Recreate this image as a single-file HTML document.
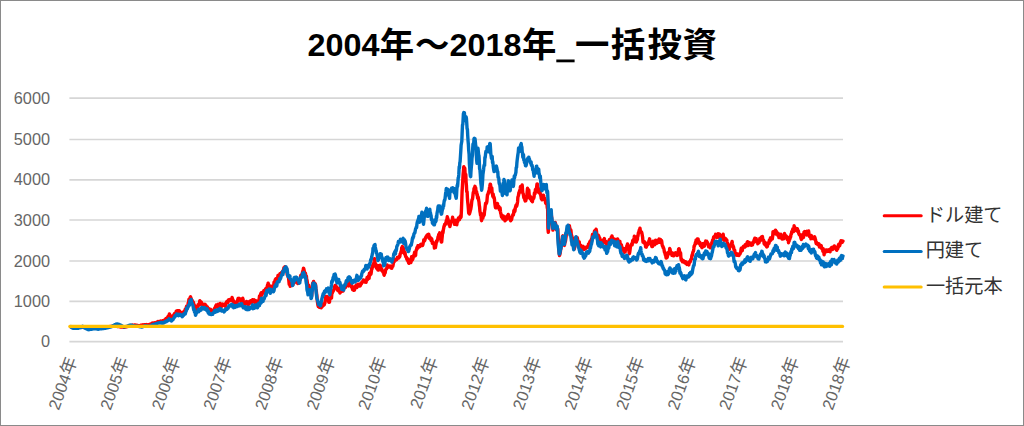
<!DOCTYPE html>
<html lang="ja">
<head>
<meta charset="utf-8">
<title>2004年～2018年_一括投資</title>
<style>
html,body{margin:0;padding:0;background:#fff;}
body{width:1024px;height:426px;overflow:hidden;font-family:"Liberation Sans",sans-serif;}
svg{display:block;}
</style>
</head>
<body>
<svg width="1024" height="426" viewBox="0 0 1024 426" role="img" aria-label="2004年～2018年_一括投資">
<rect x="0" y="0" width="1024" height="426" fill="#fff"/>
<rect x="0.5" y="0.5" width="1023" height="425" fill="none" stroke="#8a8a8a" stroke-width="1"/>
<g stroke="#D6D6D6" stroke-width="1.7"><line x1="69.4" y1="341.70" x2="843.0" y2="341.70"/><line x1="69.4" y1="301.40" x2="843.0" y2="301.40"/><line x1="69.4" y1="261.00" x2="843.0" y2="261.00"/><line x1="69.4" y1="220.00" x2="843.0" y2="220.00"/><line x1="69.4" y1="179.80" x2="843.0" y2="179.80"/><line x1="69.4" y1="139.50" x2="843.0" y2="139.50"/><line x1="69.4" y1="98.05" x2="843.0" y2="98.05"/></g>
<g font-family="'Liberation Sans', sans-serif" font-size="16.3" fill="#666"><text x="50" y="347.2" text-anchor="end">0</text><text x="50" y="306.9" text-anchor="end">1000</text><text x="50" y="266.5" text-anchor="end">2000</text><text x="50" y="225.5" text-anchor="end">3000</text><text x="50" y="185.3" text-anchor="end">4000</text><text x="50" y="145.0" text-anchor="end">5000</text><text x="50" y="103.5" text-anchor="end">6000</text></g>
<g fill="none" stroke-width="3.4" stroke-linejoin="round" stroke-linecap="round">
<path stroke="#FF0000" d="M70.8 326.9 L71.1 326.9 L71.4 326.9 L71.7 326.9 L72.1 326.8 L72.4 326.9 L72.7 327.0 L73.1 326.9 L73.4 327.0 L73.7 326.9 L74.0 326.9 L74.4 326.9 L74.7 326.8 L75.0 327.0 L75.4 327.0 L75.7 327.0 L76.0 326.9 L76.4 326.8 L76.7 326.9 L77.0 326.9 L77.3 327.0 L77.7 327.0 L78.0 327.0 L78.3 326.9 L78.7 327.0 L79.0 327.0 L79.3 326.9 L79.7 327.1 L80.0 327.0 L80.3 327.1 L80.6 327.0 L81.0 326.9 L81.3 327.0 L81.6 327.0 L82.0 327.1 L82.3 327.1 L82.6 327.1 L83.0 327.0 L83.3 327.1 L83.6 327.2 L83.9 327.1 L84.3 327.2 L84.6 327.2 L84.9 327.2 L85.3 327.2 L85.6 327.3 L85.9 327.2 L86.3 327.3 L86.6 327.3 L86.9 327.3 L87.2 327.4 L87.6 327.4 L87.9 327.3 L88.2 327.5 L88.6 327.5 L88.9 327.6 L89.2 327.6 L89.6 327.5 L89.9 327.5 L90.2 327.4 L90.5 327.5 L90.9 327.4 L91.2 327.4 L91.5 327.4 L91.9 327.4 L92.2 327.4 L92.5 327.5 L92.9 327.3 L93.2 327.3 L93.5 327.4 L93.8 327.5 L94.2 327.5 L94.5 327.3 L94.8 327.2 L95.2 327.4 L95.5 327.4 L95.8 327.3 L96.2 327.4 L96.5 327.5 L96.8 327.4 L97.1 327.4 L97.5 327.4 L97.8 327.5 L98.1 327.4 L98.5 327.4 L98.8 327.4 L99.1 327.3 L99.5 327.4 L99.8 327.4 L100.1 327.4 L100.4 327.2 L100.8 327.3 L101.1 327.3 L101.4 327.2 L101.8 327.3 L102.1 327.3 L102.4 327.2 L102.8 327.4 L103.1 327.3 L103.4 327.3 L103.7 327.3 L104.1 327.3 L104.4 327.3 L104.7 327.3 L105.1 327.2 L105.4 327.2 L105.7 327.2 L106.1 327.1 L106.4 327.0 L106.7 327.1 L107.0 327.1 L107.4 326.9 L107.7 326.8 L108.0 326.8 L108.4 326.8 L108.7 326.7 L109.0 326.8 L109.4 326.6 L109.7 326.7 L110.0 326.5 L110.3 326.5 L110.7 326.5 L111.0 326.5 L111.3 326.4 L111.7 326.4 L112.0 326.3 L112.3 326.3 L112.7 326.2 L113.0 326.1 L113.3 326.1 L113.6 326.1 L114.0 326.0 L114.3 326.1 L114.6 326.1 L115.0 326.3 L115.3 326.2 L115.6 326.2 L116.0 326.2 L116.3 326.3 L116.6 326.4 L116.9 326.4 L117.3 326.4 L117.6 326.6 L117.9 326.4 L118.3 326.4 L118.6 326.6 L118.9 326.6 L119.3 326.7 L119.6 326.7 L119.9 326.8 L120.2 326.8 L120.6 326.8 L120.9 327.0 L121.2 327.0 L121.6 326.9 L121.9 327.0 L122.2 327.0 L122.6 327.1 L122.9 327.0 L123.2 327.1 L123.5 327.2 L123.9 327.2 L124.2 327.2 L124.5 327.2 L124.9 327.1 L125.2 327.1 L125.5 326.8 L125.9 326.8 L126.2 326.7 L126.5 326.7 L126.8 326.7 L127.2 326.4 L127.5 326.5 L127.8 326.3 L128.2 326.3 L128.5 326.2 L128.8 326.2 L129.2 326.2 L129.5 326.0 L129.8 326.0 L130.1 325.9 L130.5 325.8 L130.8 325.7 L131.1 325.8 L131.5 325.7 L131.8 325.5 L132.1 325.7 L132.5 325.3 L132.8 325.4 L133.1 325.2 L133.4 325.1 L133.8 325.1 L134.1 325.1 L134.4 325.1 L134.8 325.0 L135.1 325.0 L135.4 325.2 L135.8 325.2 L136.1 325.2 L136.4 325.2 L136.8 325.5 L137.1 325.6 L137.4 325.7 L137.7 325.5 L138.1 325.6 L138.4 325.6 L138.7 325.7 L139.1 325.9 L139.4 325.6 L139.7 325.7 L140.1 325.6 L140.4 325.5 L140.7 325.2 L141.0 325.4 L141.4 325.2 L141.7 325.1 L142.0 325.1 L142.4 325.0 L142.7 325.1 L143.0 324.8 L143.4 324.9 L143.7 324.9 L144.0 324.9 L144.3 324.7 L144.7 324.6 L145.0 324.8 L145.3 324.8 L145.7 324.8 L146.0 325.0 L146.3 324.9 L146.7 324.6 L147.0 324.8 L147.3 324.7 L147.6 325.0 L148.0 325.0 L148.3 324.8 L148.6 324.7 L149.0 324.7 L149.3 324.5 L149.6 324.6 L150.0 324.3 L150.3 324.3 L150.6 324.3 L150.9 324.3 L151.3 323.8 L151.6 323.9 L151.9 323.3 L152.3 323.3 L152.6 323.0 L152.9 323.5 L153.3 323.1 L153.6 323.1 L153.9 323.1 L154.2 323.0 L154.6 322.8 L154.9 322.9 L155.2 323.1 L155.6 322.8 L155.9 322.7 L156.2 322.7 L156.6 322.3 L156.9 321.9 L157.2 321.9 L157.5 322.2 L157.9 321.5 L158.2 321.5 L158.5 321.9 L158.9 321.8 L159.2 321.6 L159.5 321.7 L159.9 321.6 L160.2 321.2 L160.5 320.9 L160.8 321.1 L161.2 321.6 L161.5 321.3 L161.8 321.1 L162.2 321.1 L162.5 320.8 L162.8 321.2 L163.2 320.9 L163.5 321.3 L163.8 320.6 L164.1 321.0 L164.5 320.6 L164.8 319.8 L165.1 320.2 L165.5 319.7 L165.8 318.7 L166.1 318.6 L166.5 318.8 L166.8 318.1 L167.1 318.0 L167.4 317.6 L167.8 317.1 L168.1 316.4 L168.4 316.3 L168.8 315.6 L169.1 315.1 L169.4 314.0 L169.8 315.6 L170.1 316.4 L170.4 316.1 L170.7 316.1 L171.1 317.5 L171.4 316.4 L171.7 316.9 L172.1 317.7 L172.4 316.0 L172.7 316.1 L173.1 316.5 L173.4 315.3 L173.7 315.1 L174.0 314.9 L174.4 313.6 L174.7 313.4 L175.0 313.4 L175.4 313.4 L175.7 312.6 L176.0 312.0 L176.4 311.0 L176.7 310.9 L177.0 311.5 L177.3 311.2 L177.7 310.7 L178.0 310.7 L178.3 313.2 L178.7 313.0 L179.0 312.7 L179.3 310.7 L179.7 312.4 L180.0 312.9 L180.3 313.9 L180.6 313.5 L181.0 313.2 L181.3 313.6 L181.6 312.4 L182.0 313.9 L182.3 314.0 L182.6 313.6 L183.0 314.4 L183.3 314.4 L183.6 312.1 L183.9 311.5 L184.3 311.6 L184.6 311.2 L184.9 310.3 L185.3 309.2 L185.6 310.8 L185.9 309.9 L186.3 307.4 L186.6 306.2 L186.9 308.1 L187.2 307.4 L187.6 307.3 L187.9 305.7 L188.2 302.9 L188.6 302.7 L188.9 299.3 L189.2 299.3 L189.6 299.4 L189.9 299.4 L190.2 297.3 L190.5 296.8 L190.9 297.9 L191.2 298.7 L191.5 299.8 L191.9 300.2 L192.2 300.3 L192.5 302.1 L192.9 302.3 L193.2 302.0 L193.5 302.7 L193.8 304.1 L194.2 304.8 L194.5 305.9 L194.8 306.5 L195.2 307.2 L195.5 307.3 L195.8 306.6 L196.2 308.1 L196.5 309.2 L196.8 309.3 L197.1 308.3 L197.5 308.1 L197.8 306.3 L198.1 304.6 L198.5 305.5 L198.8 304.3 L199.1 305.2 L199.5 303.2 L199.8 300.6 L200.1 301.3 L200.4 304.4 L200.8 303.2 L201.1 301.9 L201.4 302.3 L201.8 303.7 L202.1 304.1 L202.4 303.9 L202.8 305.3 L203.1 304.9 L203.4 304.2 L203.7 304.8 L204.1 306.2 L204.4 306.0 L204.7 306.2 L205.1 304.3 L205.4 304.9 L205.7 306.1 L206.1 305.6 L206.4 306.9 L206.7 306.9 L207.0 307.5 L207.4 306.9 L207.7 309.5 L208.0 309.2 L208.4 308.3 L208.7 308.6 L209.0 310.9 L209.4 309.5 L209.7 310.3 L210.0 310.9 L210.3 310.3 L210.7 309.3 L211.0 310.1 L211.3 310.5 L211.7 311.2 L212.0 311.2 L212.3 310.7 L212.7 311.2 L213.0 311.2 L213.3 310.7 L213.6 310.1 L214.0 309.5 L214.3 309.7 L214.6 308.1 L215.0 307.7 L215.3 307.9 L215.6 306.3 L216.0 306.5 L216.3 304.9 L216.6 305.6 L216.9 306.7 L217.3 306.8 L217.6 306.2 L217.9 305.7 L218.3 304.3 L218.6 306.8 L218.9 306.1 L219.3 306.3 L219.6 304.5 L219.9 304.9 L220.2 303.5 L220.6 305.7 L220.9 306.5 L221.2 304.1 L221.6 305.3 L221.9 306.3 L222.2 304.4 L222.6 304.0 L222.9 304.7 L223.2 305.2 L223.5 304.4 L223.9 305.3 L224.2 305.5 L224.5 305.7 L224.9 305.6 L225.2 306.2 L225.5 305.8 L225.9 303.0 L226.2 302.9 L226.5 302.1 L226.8 301.6 L227.2 302.3 L227.5 302.4 L227.8 302.7 L228.2 300.3 L228.5 299.9 L228.8 300.9 L229.2 300.8 L229.5 300.4 L229.8 300.4 L230.1 299.4 L230.5 300.6 L230.8 300.3 L231.1 299.5 L231.5 298.9 L231.8 299.7 L232.1 297.4 L232.5 299.0 L232.8 300.9 L233.1 299.9 L233.4 301.9 L233.8 302.6 L234.1 301.3 L234.4 302.3 L234.8 302.7 L235.1 303.7 L235.4 304.3 L235.8 303.7 L236.1 302.2 L236.4 302.2 L236.7 301.9 L237.1 302.3 L237.4 301.6 L237.7 299.9 L238.1 298.4 L238.4 299.1 L238.7 298.9 L239.1 298.3 L239.4 299.3 L239.7 299.0 L240.0 299.6 L240.4 300.1 L240.7 299.2 L241.0 301.9 L241.4 299.7 L241.7 300.9 L242.0 300.3 L242.4 301.4 L242.7 298.1 L243.0 299.2 L243.3 300.7 L243.7 301.6 L244.0 303.9 L244.3 302.5 L244.7 303.3 L245.0 303.1 L245.3 303.3 L245.7 303.0 L246.0 302.3 L246.3 302.9 L246.6 301.4 L247.0 303.5 L247.3 301.8 L247.6 302.8 L248.0 305.1 L248.3 303.3 L248.6 303.2 L249.0 304.2 L249.3 303.0 L249.6 301.6 L249.9 302.2 L250.3 302.5 L250.6 302.5 L250.9 300.7 L251.3 302.8 L251.6 303.0 L251.9 301.1 L252.3 300.7 L252.6 299.7 L252.9 301.6 L253.2 299.9 L253.6 301.1 L253.9 300.2 L254.2 299.8 L254.6 301.4 L254.9 302.6 L255.2 301.5 L255.6 300.6 L255.9 302.1 L256.2 301.7 L256.5 302.1 L256.9 303.6 L257.2 303.7 L257.5 302.1 L257.9 304.8 L258.2 302.9 L258.5 302.2 L258.9 299.6 L259.2 298.8 L259.5 295.9 L259.8 298.3 L260.2 298.0 L260.5 294.9 L260.8 293.5 L261.2 292.8 L261.5 295.5 L261.8 294.1 L262.2 294.0 L262.5 293.4 L262.8 293.2 L263.1 291.9 L263.5 292.5 L263.8 290.8 L264.1 291.4 L264.5 291.7 L264.8 291.5 L265.1 290.3 L265.5 288.9 L265.8 289.4 L266.1 288.4 L266.4 289.9 L266.8 288.8 L267.1 287.0 L267.4 285.5 L267.8 284.3 L268.1 283.2 L268.4 284.0 L268.8 285.2 L269.1 286.0 L269.4 286.5 L269.7 288.5 L270.1 286.2 L270.4 286.7 L270.7 290.1 L271.1 286.1 L271.4 286.8 L271.7 288.0 L272.1 288.6 L272.4 288.8 L272.7 287.3 L273.0 287.0 L273.4 286.0 L273.7 285.9 L274.0 282.3 L274.4 281.9 L274.7 282.2 L275.0 280.5 L275.4 279.4 L275.7 280.4 L276.0 278.6 L276.3 279.4 L276.7 279.4 L277.0 278.7 L277.3 278.4 L277.7 277.4 L278.0 275.4 L278.3 276.1 L278.7 276.6 L279.0 275.3 L279.3 275.2 L279.6 275.8 L280.0 273.8 L280.3 274.7 L280.6 276.0 L281.0 273.4 L281.3 273.2 L281.6 272.5 L282.0 273.9 L282.3 272.6 L282.6 272.6 L282.9 270.6 L283.3 270.5 L283.6 270.1 L283.9 267.7 L284.3 270.3 L284.6 270.1 L284.9 266.7 L285.3 268.3 L285.6 267.4 L285.9 267.5 L286.2 268.7 L286.6 268.4 L286.9 271.1 L287.2 274.9 L287.6 274.9 L287.9 275.8 L288.2 276.6 L288.6 278.1 L288.9 281.3 L289.2 284.4 L289.5 283.8 L289.9 283.7 L290.2 286.2 L290.5 284.0 L290.9 283.5 L291.2 285.0 L291.5 285.6 L291.9 284.3 L292.2 284.0 L292.5 285.1 L292.8 284.9 L293.2 282.8 L293.5 283.1 L293.8 282.3 L294.2 282.9 L294.5 282.0 L294.8 281.4 L295.2 280.5 L295.5 281.5 L295.8 281.8 L296.1 280.4 L296.5 281.5 L296.8 280.3 L297.1 281.1 L297.5 282.2 L297.8 283.5 L298.1 282.0 L298.5 282.1 L298.8 282.7 L299.1 281.1 L299.4 281.4 L299.8 280.0 L300.1 280.0 L300.4 277.6 L300.8 275.4 L301.1 276.3 L301.4 276.0 L301.8 274.3 L302.1 274.7 L302.4 272.8 L302.7 271.2 L303.1 271.3 L303.4 268.3 L303.7 268.4 L304.1 270.1 L304.4 272.1 L304.7 272.2 L305.1 273.4 L305.4 273.2 L305.7 274.9 L306.0 277.5 L306.4 276.2 L306.7 279.9 L307.0 279.9 L307.4 283.0 L307.7 286.2 L308.0 289.9 L308.4 287.2 L308.7 285.2 L309.0 287.3 L309.3 288.1 L309.7 289.3 L310.0 292.7 L310.3 291.8 L310.7 292.5 L311.0 294.3 L311.3 295.0 L311.7 296.0 L312.0 290.9 L312.3 288.8 L312.6 283.3 L313.0 284.9 L313.3 282.3 L313.6 281.4 L314.0 284.0 L314.3 282.9 L314.6 283.1 L315.0 283.5 L315.3 283.9 L315.6 284.9 L315.9 288.4 L316.3 290.9 L316.6 293.7 L316.9 296.3 L317.3 300.3 L317.6 303.0 L317.9 305.1 L318.3 306.5 L318.6 306.0 L318.9 305.1 L319.2 307.4 L319.6 307.1 L319.9 305.9 L320.2 307.5 L320.6 307.4 L320.9 305.6 L321.2 307.8 L321.6 307.0 L321.9 307.1 L322.2 306.4 L322.5 305.7 L322.9 304.0 L323.2 305.8 L323.5 305.2 L323.9 304.5 L324.2 304.8 L324.5 303.7 L324.9 303.1 L325.2 301.0 L325.5 299.9 L325.8 296.5 L326.2 296.6 L326.5 297.0 L326.8 297.4 L327.2 296.5 L327.5 297.2 L327.8 299.7 L328.2 298.8 L328.5 300.3 L328.8 302.3 L329.1 301.6 L329.5 302.1 L329.8 299.3 L330.1 298.9 L330.5 297.8 L330.8 297.1 L331.1 297.3 L331.5 298.0 L331.8 294.2 L332.1 292.6 L332.4 292.8 L332.8 290.6 L333.1 291.3 L333.4 291.1 L333.8 289.6 L334.1 289.6 L334.4 286.8 L334.8 288.2 L335.1 285.5 L335.4 285.3 L335.7 285.6 L336.1 286.2 L336.4 288.0 L336.7 287.8 L337.1 287.5 L337.4 288.7 L337.7 290.4 L338.1 289.4 L338.4 289.8 L338.7 291.0 L339.0 290.3 L339.4 288.5 L339.7 292.3 L340.0 293.0 L340.4 288.7 L340.7 289.8 L341.0 290.7 L341.4 291.6 L341.7 291.5 L342.0 290.6 L342.3 289.6 L342.7 290.2 L343.0 291.1 L343.3 288.7 L343.7 287.8 L344.0 288.4 L344.3 286.2 L344.7 287.2 L345.0 286.9 L345.3 287.6 L345.6 286.1 L346.0 285.3 L346.3 285.3 L346.6 285.4 L347.0 284.5 L347.3 284.7 L347.6 285.2 L348.0 285.6 L348.3 285.9 L348.6 283.0 L348.9 282.3 L349.3 279.7 L349.6 284.6 L349.9 283.4 L350.3 284.3 L350.6 285.7 L350.9 284.4 L351.2 286.6 L351.6 287.1 L351.9 285.7 L352.2 287.9 L352.6 289.7 L352.9 287.0 L353.2 289.6 L353.6 289.8 L353.9 290.3 L354.2 289.7 L354.5 290.0 L354.9 287.9 L355.2 288.1 L355.5 286.2 L355.9 286.7 L356.2 285.2 L356.5 285.5 L356.9 287.6 L357.2 286.6 L357.5 285.6 L357.8 284.2 L358.2 284.2 L358.5 285.2 L358.8 286.1 L359.2 285.6 L359.5 285.5 L359.8 284.7 L360.2 286.0 L360.5 284.2 L360.8 283.4 L361.1 284.4 L361.5 283.5 L361.8 282.5 L362.1 281.7 L362.5 281.5 L362.8 282.1 L363.1 281.7 L363.5 279.9 L363.8 281.4 L364.1 281.5 L364.4 280.3 L364.8 282.0 L365.1 281.4 L365.4 281.2 L365.8 282.2 L366.1 282.3 L366.4 279.6 L366.8 279.5 L367.1 277.5 L367.4 279.9 L367.7 277.1 L368.1 278.1 L368.4 276.1 L368.7 276.9 L369.1 278.4 L369.4 273.3 L369.7 274.1 L370.1 275.0 L370.4 273.7 L370.7 272.0 L371.0 274.0 L371.4 271.4 L371.7 268.0 L372.0 269.1 L372.4 265.7 L372.7 267.2 L373.0 264.8 L373.4 264.1 L373.7 264.1 L374.0 261.9 L374.3 258.6 L374.7 258.8 L375.0 262.9 L375.3 264.4 L375.7 264.0 L376.0 266.6 L376.3 267.6 L376.7 268.2 L377.0 265.5 L377.3 267.3 L377.6 269.4 L378.0 270.0 L378.3 270.1 L378.6 265.8 L379.0 267.1 L379.3 267.3 L379.6 269.1 L380.0 265.2 L380.3 265.7 L380.6 266.9 L380.9 268.6 L381.3 268.2 L381.6 270.4 L381.9 269.3 L382.3 270.8 L382.6 270.8 L382.9 272.0 L383.3 271.9 L383.6 271.4 L383.9 274.7 L384.2 275.2 L384.6 273.5 L384.9 273.0 L385.2 272.9 L385.6 269.9 L385.9 269.3 L386.2 269.1 L386.6 268.8 L386.9 267.5 L387.2 264.9 L387.5 267.6 L387.9 266.9 L388.2 266.4 L388.5 266.2 L388.9 266.9 L389.2 266.5 L389.5 265.9 L389.9 266.2 L390.2 266.5 L390.5 266.7 L390.8 266.2 L391.2 268.1 L391.5 266.5 L391.8 268.3 L392.2 265.9 L392.5 266.0 L392.8 266.4 L393.2 264.5 L393.5 262.3 L393.8 262.1 L394.1 261.9 L394.5 259.4 L394.8 259.7 L395.1 260.3 L395.5 259.4 L395.8 259.5 L396.1 259.9 L396.5 259.7 L396.8 259.5 L397.1 258.7 L397.4 257.4 L397.8 257.6 L398.1 257.6 L398.4 257.7 L398.8 258.0 L399.1 256.6 L399.4 257.1 L399.8 256.4 L400.1 254.2 L400.4 253.7 L400.7 253.2 L401.1 251.3 L401.4 252.9 L401.7 247.7 L402.1 248.6 L402.4 246.5 L402.7 248.6 L403.1 252.1 L403.4 248.0 L403.7 250.6 L404.0 252.4 L404.4 252.6 L404.7 254.2 L405.0 252.1 L405.4 255.6 L405.7 256.6 L406.0 257.1 L406.4 257.1 L406.7 259.1 L407.0 258.9 L407.3 260.3 L407.7 260.4 L408.0 259.0 L408.3 261.7 L408.7 263.0 L409.0 263.3 L409.3 261.3 L409.7 261.4 L410.0 261.8 L410.3 261.0 L410.6 261.7 L411.0 262.4 L411.3 259.1 L411.6 256.8 L412.0 259.0 L412.3 260.0 L412.6 259.3 L413.0 258.6 L413.3 256.4 L413.6 255.4 L413.9 256.4 L414.3 254.3 L414.6 252.3 L414.9 252.3 L415.3 255.7 L415.6 255.3 L415.9 251.5 L416.3 249.8 L416.6 249.6 L416.9 247.8 L417.2 248.9 L417.6 247.4 L417.9 245.7 L418.2 247.7 L418.6 245.8 L418.9 246.0 L419.2 245.7 L419.6 245.6 L419.9 246.6 L420.2 245.9 L420.5 244.7 L420.9 244.3 L421.2 245.0 L421.5 245.2 L421.9 245.6 L422.2 245.4 L422.5 245.5 L422.9 244.6 L423.2 242.9 L423.5 242.1 L423.8 239.6 L424.2 240.5 L424.5 240.9 L424.8 240.4 L425.2 238.8 L425.5 237.8 L425.8 238.2 L426.2 236.5 L426.5 236.3 L426.8 235.5 L427.1 235.0 L427.5 236.4 L427.8 234.7 L428.1 234.6 L428.5 234.2 L428.8 234.3 L429.1 237.3 L429.5 238.4 L429.8 236.8 L430.1 237.4 L430.4 238.9 L430.8 239.4 L431.1 240.5 L431.4 238.5 L431.8 239.2 L432.1 241.2 L432.4 243.4 L432.8 243.1 L433.1 242.5 L433.4 243.6 L433.7 244.1 L434.1 244.6 L434.4 248.0 L434.7 247.1 L435.1 246.3 L435.4 247.6 L435.7 246.0 L436.1 243.8 L436.4 241.2 L436.7 240.9 L437.0 241.5 L437.4 239.7 L437.7 239.3 L438.0 237.1 L438.4 236.3 L438.7 234.5 L439.0 234.0 L439.4 234.2 L439.7 232.8 L440.0 235.3 L440.3 237.6 L440.7 238.4 L441.0 240.2 L441.3 242.1 L441.7 241.8 L442.0 238.5 L442.3 235.8 L442.7 231.3 L443.0 232.8 L443.3 230.0 L443.6 228.7 L444.0 226.3 L444.3 226.3 L444.6 224.4 L445.0 224.6 L445.3 224.5 L445.6 223.3 L446.0 222.7 L446.3 220.6 L446.6 222.4 L446.9 219.6 L447.3 216.8 L447.6 218.3 L447.9 219.3 L448.3 220.2 L448.6 222.3 L448.9 224.6 L449.3 224.3 L449.6 225.2 L449.9 226.6 L450.2 225.3 L450.6 223.4 L450.9 222.6 L451.2 221.5 L451.6 220.7 L451.9 220.9 L452.2 220.3 L452.6 217.3 L452.9 219.7 L453.2 219.3 L453.5 221.3 L453.9 220.3 L454.2 221.2 L454.5 224.3 L454.9 221.5 L455.2 221.1 L455.5 221.1 L455.9 220.3 L456.2 221.2 L456.5 224.6 L456.8 224.7 L457.2 221.7 L457.5 220.3 L457.8 221.6 L458.2 219.0 L458.5 217.9 L458.8 217.7 L459.2 218.8 L459.5 219.6 L459.8 218.3 L460.1 216.5 L460.5 215.8 L460.8 217.4 L461.1 217.0 L461.5 208.7 L461.8 200.3 L462.1 191.3 L462.5 185.1 L462.8 180.0 L463.1 174.4 L463.4 171.5 L463.8 166.7 L464.1 167.4 L464.4 169.2 L464.8 168.3 L465.1 173.9 L465.4 176.1 L465.8 174.5 L466.1 182.1 L466.4 185.4 L466.7 191.7 L467.1 191.7 L467.4 197.5 L467.7 201.6 L468.1 205.3 L468.4 209.2 L468.7 213.1 L469.1 212.2 L469.4 214.1 L469.7 213.1 L470.0 212.1 L470.4 210.2 L470.7 209.5 L471.0 207.7 L471.4 205.2 L471.7 201.9 L472.0 199.8 L472.4 199.6 L472.7 197.6 L473.0 194.7 L473.3 192.1 L473.7 192.9 L474.0 188.6 L474.3 188.1 L474.7 187.4 L475.0 186.3 L475.3 189.0 L475.7 187.9 L476.0 192.0 L476.3 192.9 L476.6 191.6 L477.0 195.1 L477.3 194.4 L477.6 198.0 L478.0 196.7 L478.3 197.8 L478.6 200.1 L479.0 202.0 L479.3 205.3 L479.6 207.0 L479.9 211.1 L480.3 213.2 L480.6 215.4 L480.9 213.3 L481.3 219.3 L481.6 220.7 L481.9 217.4 L482.3 218.1 L482.6 218.0 L482.9 218.0 L483.2 214.3 L483.6 216.1 L483.9 213.4 L484.2 215.2 L484.6 210.7 L484.9 209.5 L485.2 206.4 L485.6 203.2 L485.9 204.2 L486.2 203.3 L486.5 203.2 L486.9 201.3 L487.2 197.9 L487.5 194.6 L487.9 194.4 L488.2 193.4 L488.5 192.0 L488.9 192.2 L489.2 190.4 L489.5 187.7 L489.8 186.3 L490.2 184.1 L490.5 184.1 L490.8 186.7 L491.2 188.8 L491.5 188.2 L491.8 188.0 L492.2 193.6 L492.5 193.9 L492.8 196.3 L493.1 193.9 L493.5 196.0 L493.8 198.0 L494.1 197.3 L494.5 199.6 L494.8 203.0 L495.1 205.4 L495.5 207.8 L495.8 206.1 L496.1 205.2 L496.4 207.0 L496.8 207.6 L497.1 206.3 L497.4 203.4 L497.8 205.2 L498.1 206.3 L498.4 207.0 L498.8 206.4 L499.1 208.0 L499.4 209.8 L499.7 209.1 L500.1 207.8 L500.4 211.2 L500.7 213.3 L501.1 214.2 L501.4 216.6 L501.7 216.2 L502.1 217.8 L502.4 217.9 L502.7 218.1 L503.0 218.9 L503.4 216.0 L503.7 217.6 L504.0 216.7 L504.4 216.7 L504.7 217.8 L505.0 220.9 L505.4 220.3 L505.7 219.3 L506.0 217.3 L506.3 218.3 L506.7 219.2 L507.0 217.9 L507.3 216.9 L507.7 215.4 L508.0 215.5 L508.3 214.4 L508.7 218.0 L509.0 217.7 L509.3 217.3 L509.6 218.4 L510.0 218.4 L510.3 220.2 L510.6 220.7 L511.0 217.4 L511.3 219.3 L511.6 219.5 L512.0 217.4 L512.3 215.3 L512.6 215.1 L512.9 214.5 L513.3 215.1 L513.6 213.7 L513.9 210.5 L514.3 212.1 L514.6 209.5 L514.9 211.3 L515.3 208.0 L515.6 207.0 L515.9 205.6 L516.2 204.9 L516.6 206.4 L516.9 205.3 L517.2 203.8 L517.6 201.7 L517.9 197.2 L518.2 196.3 L518.6 194.8 L518.9 192.6 L519.2 193.2 L519.5 191.2 L519.9 190.1 L520.2 188.8 L520.5 186.4 L520.9 189.2 L521.2 190.5 L521.5 188.5 L521.9 187.0 L522.2 185.0 L522.5 189.7 L522.8 193.2 L523.2 193.5 L523.5 195.4 L523.8 197.5 L524.2 198.4 L524.5 197.2 L524.8 199.9 L525.2 201.0 L525.5 198.9 L525.8 200.8 L526.1 199.1 L526.5 198.3 L526.8 197.2 L527.1 192.7 L527.5 188.3 L527.8 190.4 L528.1 190.0 L528.5 192.7 L528.8 190.0 L529.1 193.7 L529.4 196.9 L529.8 198.4 L530.1 196.2 L530.4 197.0 L530.8 197.2 L531.1 199.5 L531.4 200.7 L531.8 200.3 L532.1 198.8 L532.4 201.7 L532.7 199.2 L533.1 199.2 L533.4 197.7 L533.7 198.3 L534.1 196.8 L534.4 193.1 L534.7 192.6 L535.1 193.7 L535.4 189.6 L535.7 189.2 L536.0 189.4 L536.4 188.7 L536.7 186.5 L537.0 183.9 L537.4 183.9 L537.7 186.7 L538.0 188.1 L538.4 192.2 L538.7 188.7 L539.0 191.7 L539.3 192.7 L539.7 190.2 L540.0 191.6 L540.3 194.3 L540.7 194.9 L541.0 196.6 L541.3 198.9 L541.7 198.6 L542.0 199.8 L542.3 197.7 L542.6 196.6 L543.0 197.2 L543.3 195.1 L543.6 195.3 L544.0 198.5 L544.3 197.9 L544.6 198.3 L545.0 200.5 L545.3 200.3 L545.6 203.0 L545.9 200.9 L546.3 203.7 L546.6 203.4 L546.9 203.7 L547.3 208.1 L547.6 206.4 L547.9 228.4 L548.3 232.2 L548.6 229.4 L548.9 222.9 L549.2 221.4 L549.6 221.2 L549.9 218.4 L550.2 217.0 L550.6 219.3 L550.9 216.1 L551.2 214.9 L551.6 216.8 L551.9 220.6 L552.2 223.3 L552.5 225.7 L552.9 230.1 L553.2 228.3 L553.5 227.9 L553.9 228.4 L554.2 224.8 L554.5 225.8 L554.9 226.4 L555.2 222.4 L555.5 223.4 L555.8 225.0 L556.2 225.7 L556.5 229.9 L556.8 227.3 L557.2 229.4 L557.5 230.8 L557.8 228.9 L558.2 236.8 L558.5 242.2 L558.8 249.7 L559.1 252.0 L559.5 255.6 L559.8 254.5 L560.1 253.4 L560.5 250.8 L560.8 249.2 L561.1 246.8 L561.5 245.3 L561.8 241.8 L562.1 240.7 L562.4 236.5 L562.8 235.9 L563.1 240.9 L563.4 241.4 L563.8 241.4 L564.1 244.6 L564.4 245.4 L564.8 243.1 L565.1 241.7 L565.4 241.5 L565.7 239.5 L566.1 236.8 L566.4 233.6 L566.7 231.0 L567.1 232.9 L567.4 231.3 L567.7 228.8 L568.1 226.0 L568.4 225.6 L568.7 229.6 L569.0 225.4 L569.4 225.8 L569.7 227.7 L570.0 228.6 L570.4 229.7 L570.7 229.7 L571.0 231.0 L571.4 235.9 L571.7 235.4 L572.0 238.5 L572.3 237.5 L572.7 240.1 L573.0 242.7 L573.3 245.4 L573.7 244.9 L574.0 247.9 L574.3 249.0 L574.7 246.4 L575.0 246.2 L575.3 243.5 L575.7 242.0 L576.0 241.5 L576.3 237.3 L576.6 238.3 L577.0 237.8 L577.3 237.8 L577.6 239.5 L578.0 241.8 L578.3 241.5 L578.6 243.9 L579.0 242.2 L579.3 242.1 L579.6 245.8 L579.9 245.8 L580.3 246.7 L580.6 245.1 L580.9 246.8 L581.3 246.9 L581.6 247.6 L581.9 247.3 L582.3 248.8 L582.6 247.3 L582.9 246.9 L583.2 246.4 L583.6 249.5 L583.9 248.4 L584.2 248.0 L584.6 248.3 L584.9 249.2 L585.2 248.0 L585.6 248.6 L585.9 248.1 L586.2 247.8 L586.5 247.1 L586.9 247.7 L587.2 247.1 L587.5 247.3 L587.9 247.3 L588.2 247.1 L588.5 244.0 L588.9 244.5 L589.2 243.7 L589.5 244.7 L589.8 241.7 L590.2 241.3 L590.5 241.1 L590.8 240.4 L591.2 241.2 L591.5 239.1 L591.8 239.7 L592.2 236.4 L592.5 234.5 L592.8 237.1 L593.1 236.2 L593.5 235.5 L593.8 234.3 L594.1 233.9 L594.5 231.1 L594.8 232.5 L595.1 230.4 L595.5 231.2 L595.8 231.1 L596.1 229.3 L596.4 230.4 L596.8 234.2 L597.1 234.3 L597.4 234.6 L597.8 235.6 L598.1 235.3 L598.4 235.3 L598.8 236.3 L599.1 236.9 L599.4 238.9 L599.7 237.9 L600.1 240.2 L600.4 241.3 L600.7 241.9 L601.1 241.8 L601.4 241.2 L601.7 241.5 L602.1 241.1 L602.4 240.2 L602.7 240.7 L603.0 240.1 L603.4 242.5 L603.7 241.8 L604.0 240.4 L604.4 238.6 L604.7 241.0 L605.0 241.7 L605.4 241.7 L605.7 242.2 L606.0 241.6 L606.3 245.2 L606.7 246.0 L607.0 248.6 L607.3 245.6 L607.7 244.2 L608.0 245.1 L608.3 243.3 L608.7 242.3 L609.0 240.9 L609.3 239.8 L609.6 241.7 L610.0 241.3 L610.3 241.8 L610.6 239.2 L611.0 238.7 L611.3 237.2 L611.6 238.7 L612.0 236.0 L612.3 237.3 L612.6 238.8 L612.9 240.2 L613.3 238.4 L613.6 240.9 L613.9 240.0 L614.3 240.2 L614.6 239.3 L614.9 241.8 L615.3 242.9 L615.6 240.4 L615.9 239.5 L616.2 239.6 L616.6 242.9 L616.9 242.0 L617.2 240.4 L617.6 238.9 L617.9 240.1 L618.2 242.8 L618.6 244.6 L618.9 242.9 L619.2 242.2 L619.5 242.6 L619.9 241.4 L620.2 244.8 L620.5 243.9 L620.9 246.6 L621.2 244.7 L621.5 245.2 L621.9 247.6 L622.2 247.5 L622.5 249.5 L622.8 249.4 L623.2 248.3 L623.5 250.2 L623.8 251.2 L624.2 248.7 L624.5 252.4 L624.8 252.1 L625.2 251.8 L625.5 248.3 L625.8 248.1 L626.1 248.0 L626.5 249.1 L626.8 246.0 L627.1 245.4 L627.5 243.9 L627.8 246.7 L628.1 248.9 L628.5 248.0 L628.8 249.8 L629.1 252.3 L629.4 253.7 L629.8 251.9 L630.1 249.5 L630.4 247.1 L630.8 245.8 L631.1 245.0 L631.4 244.8 L631.8 243.7 L632.1 244.9 L632.4 243.1 L632.7 240.5 L633.1 242.3 L633.4 241.5 L633.7 239.8 L634.1 237.8 L634.4 236.1 L634.7 237.4 L635.1 240.6 L635.4 240.0 L635.7 239.8 L636.0 242.1 L636.4 241.8 L636.7 241.0 L637.0 239.8 L637.4 239.5 L637.7 235.7 L638.0 236.0 L638.4 232.7 L638.7 232.9 L639.0 231.3 L639.3 230.0 L639.7 229.6 L640.0 228.2 L640.3 230.5 L640.7 231.6 L641.0 231.7 L641.3 231.8 L641.7 232.4 L642.0 233.8 L642.3 235.5 L642.6 237.2 L643.0 242.1 L643.3 241.6 L643.6 242.6 L644.0 241.3 L644.3 241.6 L644.6 242.6 L645.0 244.0 L645.3 243.4 L645.6 246.8 L645.9 245.6 L646.3 247.2 L646.6 243.3 L646.9 244.6 L647.3 245.0 L647.6 244.6 L647.9 244.7 L648.3 244.0 L648.6 243.4 L648.9 240.6 L649.2 240.9 L649.6 238.8 L649.9 241.3 L650.2 241.9 L650.6 242.0 L650.9 241.6 L651.2 242.2 L651.6 245.5 L651.9 246.5 L652.2 245.1 L652.5 246.5 L652.9 243.0 L653.2 241.3 L653.5 242.2 L653.9 241.5 L654.2 241.3 L654.5 241.7 L654.9 244.7 L655.2 240.8 L655.5 240.3 L655.8 240.5 L656.2 240.5 L656.5 241.8 L656.8 243.3 L657.2 240.4 L657.5 241.5 L657.8 241.4 L658.2 242.4 L658.5 240.6 L658.8 240.0 L659.1 239.1 L659.5 242.1 L659.8 242.4 L660.1 242.3 L660.5 239.4 L660.8 240.9 L661.1 240.8 L661.5 240.5 L661.8 241.8 L662.1 244.7 L662.4 245.9 L662.8 246.2 L663.1 247.6 L663.4 247.4 L663.8 248.7 L664.1 250.1 L664.4 252.0 L664.8 252.8 L665.1 253.9 L665.4 255.2 L665.7 255.4 L666.1 258.1 L666.4 256.6 L666.7 255.9 L667.1 257.5 L667.4 256.7 L667.7 252.7 L668.1 253.6 L668.4 253.5 L668.7 254.0 L669.0 253.0 L669.4 251.6 L669.7 248.5 L670.0 249.0 L670.4 251.2 L670.7 252.7 L671.0 252.1 L671.4 253.4 L671.7 254.4 L672.0 255.4 L672.3 255.5 L672.7 254.6 L673.0 253.1 L673.3 255.2 L673.7 255.8 L674.0 253.9 L674.3 254.4 L674.7 254.0 L675.0 254.2 L675.3 254.1 L675.6 252.8 L676.0 254.0 L676.3 254.8 L676.6 253.0 L677.0 255.5 L677.3 255.4 L677.6 254.5 L678.0 253.7 L678.3 251.5 L678.6 249.1 L678.9 248.7 L679.3 249.4 L679.6 251.4 L679.9 252.6 L680.3 254.5 L680.6 252.8 L680.9 258.0 L681.3 260.1 L681.6 258.9 L681.9 260.2 L682.2 261.1 L682.6 261.8 L682.9 261.3 L683.2 261.5 L683.6 260.8 L683.9 261.9 L684.2 262.1 L684.6 262.6 L684.9 261.6 L685.2 262.4 L685.5 262.7 L685.9 263.5 L686.2 262.0 L686.5 263.3 L686.9 264.4 L687.2 264.3 L687.5 263.3 L687.9 263.1 L688.2 263.3 L688.5 264.1 L688.8 264.9 L689.2 263.0 L689.5 261.7 L689.8 262.3 L690.2 262.0 L690.5 260.5 L690.8 259.6 L691.2 259.1 L691.5 259.0 L691.8 256.1 L692.1 254.8 L692.5 255.3 L692.8 252.3 L693.1 251.9 L693.5 250.9 L693.8 248.9 L694.1 246.3 L694.5 245.7 L694.8 244.7 L695.1 244.6 L695.4 242.5 L695.8 243.6 L696.1 240.0 L696.4 240.3 L696.8 240.3 L697.1 240.9 L697.4 238.9 L697.8 239.3 L698.1 239.0 L698.4 241.0 L698.7 243.2 L699.1 241.9 L699.4 243.1 L699.7 242.1 L700.1 244.4 L700.4 245.6 L700.7 245.0 L701.1 243.8 L701.4 245.7 L701.7 247.3 L702.0 247.6 L702.4 247.1 L702.7 243.7 L703.0 243.9 L703.4 246.1 L703.7 243.4 L704.0 245.1 L704.4 246.2 L704.7 244.9 L705.0 244.8 L705.3 242.8 L705.7 241.1 L706.0 241.7 L706.3 241.4 L706.7 241.3 L707.0 242.2 L707.3 242.2 L707.7 243.0 L708.0 244.0 L708.3 244.2 L708.6 246.9 L709.0 246.3 L709.3 245.9 L709.6 245.7 L710.0 245.5 L710.3 247.9 L710.6 247.4 L711.0 244.8 L711.3 244.0 L711.6 243.5 L711.9 242.3 L712.3 243.0 L712.6 239.9 L712.9 240.4 L713.3 239.5 L713.6 237.0 L713.9 237.2 L714.3 236.4 L714.6 236.8 L714.9 235.9 L715.2 236.5 L715.6 234.3 L715.9 234.5 L716.2 236.7 L716.6 237.6 L716.9 236.6 L717.2 235.5 L717.6 237.2 L717.9 233.7 L718.2 234.3 L718.5 236.1 L718.9 236.7 L719.2 235.2 L719.5 234.1 L719.9 238.1 L720.2 237.9 L720.5 236.9 L720.9 238.1 L721.2 239.7 L721.5 235.6 L721.8 238.6 L722.2 238.5 L722.5 234.9 L722.8 237.0 L723.2 234.3 L723.5 237.6 L723.8 237.8 L724.2 240.4 L724.5 237.9 L724.8 238.4 L725.1 240.0 L725.5 238.7 L725.8 238.7 L726.1 239.6 L726.5 240.5 L726.8 240.0 L727.1 242.1 L727.5 243.1 L727.8 243.7 L728.1 246.5 L728.4 245.8 L728.8 248.2 L729.1 247.6 L729.4 249.4 L729.8 246.0 L730.1 247.1 L730.4 246.4 L730.8 245.4 L731.1 244.5 L731.4 244.1 L731.7 243.0 L732.1 241.5 L732.4 243.8 L732.7 245.1 L733.1 246.1 L733.4 246.4 L733.7 248.2 L734.1 250.1 L734.4 249.9 L734.7 250.1 L735.0 252.7 L735.4 253.4 L735.7 254.0 L736.0 254.9 L736.4 253.8 L736.7 253.8 L737.0 255.3 L737.4 254.0 L737.7 254.3 L738.0 255.0 L738.3 255.3 L738.7 254.8 L739.0 255.5 L739.3 253.9 L739.7 254.0 L740.0 253.9 L740.3 252.9 L740.7 252.3 L741.0 249.5 L741.3 248.2 L741.6 248.4 L742.0 249.4 L742.3 250.5 L742.6 247.4 L743.0 248.1 L743.3 246.6 L743.6 246.1 L744.0 246.2 L744.3 247.0 L744.6 246.4 L744.9 247.1 L745.3 244.6 L745.6 245.8 L745.9 246.0 L746.3 244.8 L746.6 244.7 L746.9 243.2 L747.3 242.0 L747.6 242.2 L747.9 241.8 L748.2 245.5 L748.6 242.3 L748.9 244.0 L749.2 243.2 L749.6 243.4 L749.9 244.3 L750.2 243.1 L750.6 245.0 L750.9 245.2 L751.2 243.4 L751.5 244.8 L751.9 244.7 L752.2 244.2 L752.5 245.0 L752.9 242.5 L753.2 242.7 L753.5 242.7 L753.9 240.5 L754.2 242.1 L754.5 239.1 L754.8 238.2 L755.2 239.8 L755.5 238.4 L755.8 239.7 L756.2 238.7 L756.5 240.9 L756.8 240.5 L757.2 242.5 L757.5 241.3 L757.8 243.7 L758.1 243.2 L758.5 243.2 L758.8 242.7 L759.1 242.6 L759.5 240.7 L759.8 238.5 L760.1 240.7 L760.5 239.8 L760.8 239.6 L761.1 240.1 L761.4 236.9 L761.8 237.0 L762.1 236.7 L762.4 236.5 L762.8 239.0 L763.1 239.9 L763.4 240.0 L763.8 240.6 L764.1 243.6 L764.4 242.9 L764.7 244.4 L765.1 244.9 L765.4 242.7 L765.7 243.4 L766.1 245.1 L766.4 246.2 L766.7 247.0 L767.1 246.6 L767.4 246.4 L767.7 244.3 L768.0 243.5 L768.4 244.0 L768.7 242.3 L769.0 243.2 L769.4 240.0 L769.7 241.5 L770.0 240.6 L770.4 238.0 L770.7 240.5 L771.0 240.0 L771.3 239.3 L771.7 237.4 L772.0 237.1 L772.3 238.9 L772.7 236.1 L773.0 231.7 L773.3 233.3 L773.7 232.7 L774.0 233.4 L774.3 232.7 L774.6 231.5 L775.0 230.7 L775.3 232.3 L775.6 230.1 L776.0 234.0 L776.3 232.3 L776.6 231.5 L777.0 234.0 L777.3 234.6 L777.6 233.3 L777.9 235.5 L778.3 233.4 L778.6 234.4 L778.9 237.5 L779.3 236.8 L779.6 235.2 L779.9 236.9 L780.3 237.7 L780.6 236.8 L780.9 234.3 L781.2 235.4 L781.6 236.5 L781.9 237.4 L782.2 239.1 L782.6 237.2 L782.9 236.6 L783.2 237.1 L783.6 238.8 L783.9 236.4 L784.2 238.1 L784.5 233.5 L784.9 236.3 L785.2 235.0 L785.5 236.2 L785.9 237.3 L786.2 235.8 L786.5 237.1 L786.9 238.3 L787.2 239.4 L787.5 238.2 L787.8 238.2 L788.2 237.4 L788.5 242.7 L788.8 241.2 L789.2 240.9 L789.5 238.0 L789.8 239.1 L790.2 236.7 L790.5 237.4 L790.8 235.9 L791.1 233.9 L791.5 233.9 L791.8 231.3 L792.1 231.2 L792.5 230.4 L792.8 229.0 L793.1 230.0 L793.5 229.8 L793.8 231.5 L794.1 225.8 L794.4 227.5 L794.8 227.4 L795.1 227.9 L795.4 229.4 L795.8 230.0 L796.1 229.8 L796.4 229.4 L796.8 230.7 L797.1 231.0 L797.4 228.8 L797.7 230.8 L798.1 230.4 L798.4 231.0 L798.7 233.3 L799.1 234.2 L799.4 235.0 L799.7 234.4 L800.1 235.4 L800.4 235.3 L800.7 237.2 L801.0 238.3 L801.4 239.4 L801.7 238.9 L802.0 236.0 L802.4 235.5 L802.7 234.5 L803.0 235.5 L803.4 237.5 L803.7 236.2 L804.0 232.1 L804.3 231.9 L804.7 231.5 L805.0 233.2 L805.3 232.7 L805.7 232.7 L806.0 234.1 L806.3 231.8 L806.7 231.4 L807.0 235.0 L807.3 234.1 L807.6 232.8 L808.0 231.2 L808.3 231.7 L808.6 230.9 L809.0 234.0 L809.3 235.0 L809.6 236.6 L810.0 235.9 L810.3 235.4 L810.6 235.4 L810.9 238.8 L811.3 235.4 L811.6 236.9 L811.9 237.2 L812.3 238.0 L812.6 237.1 L812.9 238.0 L813.3 238.7 L813.6 237.8 L813.9 237.3 L814.2 237.6 L814.6 236.8 L814.9 237.9 L815.2 238.8 L815.6 240.1 L815.9 242.4 L816.2 243.5 L816.6 242.3 L816.9 243.4 L817.2 243.6 L817.5 244.4 L817.9 244.0 L818.2 244.4 L818.5 244.0 L818.9 243.7 L819.2 245.8 L819.5 247.1 L819.9 247.1 L820.2 247.1 L820.5 247.2 L820.8 246.8 L821.2 245.5 L821.5 248.2 L821.8 248.7 L822.2 248.4 L822.5 248.2 L822.8 251.0 L823.2 248.7 L823.5 252.4 L823.8 252.5 L824.1 254.7 L824.5 251.6 L824.8 251.5 L825.1 250.8 L825.5 251.2 L825.8 250.8 L826.1 250.0 L826.5 251.7 L826.8 250.0 L827.1 250.0 L827.4 251.3 L827.8 250.4 L828.1 250.4 L828.4 251.3 L828.8 250.8 L829.1 249.8 L829.4 250.4 L829.8 250.1 L830.1 251.8 L830.4 248.9 L830.7 250.1 L831.1 248.2 L831.4 247.8 L831.7 247.5 L832.1 248.0 L832.4 248.6 L832.7 249.5 L833.1 246.9 L833.4 248.3 L833.7 248.0 L834.0 247.6 L834.4 246.0 L834.7 247.7 L835.0 247.3 L835.4 247.9 L835.7 247.6 L836.0 248.8 L836.4 249.9 L836.7 250.3 L837.0 248.2 L837.3 248.7 L837.7 248.8 L838.0 245.8 L838.3 247.3 L838.7 244.1 L839.0 244.9 L839.3 244.9 L839.7 245.7 L840.0 244.3 L840.3 242.8 L840.6 241.9 L841.0 240.8 L841.3 242.7 L841.6 241.7 L842.0 241.0 L842.3 242.3 L842.6 241.1 L843.0 241.2"/>
<path stroke="#0070C0" d="M70.8 326.6 L71.1 327.0 L71.4 327.3 L71.7 327.5 L72.1 327.7 L72.4 328.0 L72.7 328.2 L73.1 328.3 L73.4 328.3 L73.7 328.2 L74.0 328.3 L74.4 328.3 L74.7 328.3 L75.0 328.2 L75.4 328.2 L75.7 328.3 L76.0 328.2 L76.4 328.2 L76.7 328.2 L77.0 328.2 L77.3 328.3 L77.7 328.3 L78.0 328.2 L78.3 328.2 L78.7 328.0 L79.0 327.9 L79.3 327.9 L79.7 327.8 L80.0 327.7 L80.3 327.7 L80.6 327.6 L81.0 327.5 L81.3 327.3 L81.6 327.0 L82.0 326.9 L82.3 326.6 L82.6 326.3 L83.0 326.5 L83.3 326.8 L83.6 327.3 L83.9 327.6 L84.3 327.8 L84.6 328.0 L84.9 328.2 L85.3 328.3 L85.6 328.6 L85.9 328.6 L86.3 328.8 L86.6 328.8 L86.9 329.0 L87.2 329.2 L87.6 329.5 L87.9 329.6 L88.2 329.6 L88.6 329.7 L88.9 329.7 L89.2 329.6 L89.6 329.5 L89.9 329.5 L90.2 329.4 L90.5 329.3 L90.9 329.3 L91.2 329.3 L91.5 329.3 L91.9 329.1 L92.2 329.0 L92.5 329.0 L92.9 329.0 L93.2 328.9 L93.5 328.8 L93.8 328.8 L94.2 328.8 L94.5 328.8 L94.8 328.8 L95.2 328.8 L95.5 328.9 L95.8 328.9 L96.2 328.9 L96.5 328.9 L96.8 329.0 L97.1 329.0 L97.5 329.0 L97.8 329.2 L98.1 329.2 L98.5 329.2 L98.8 329.0 L99.1 329.1 L99.5 328.9 L99.8 328.9 L100.1 328.9 L100.4 328.9 L100.8 328.8 L101.1 328.7 L101.4 328.7 L101.8 328.6 L102.1 328.7 L102.4 328.6 L102.8 328.6 L103.1 328.5 L103.4 328.5 L103.7 328.5 L104.1 328.4 L104.4 328.4 L104.7 328.3 L105.1 328.3 L105.4 328.2 L105.7 328.2 L106.1 328.0 L106.4 328.0 L106.7 327.9 L107.0 327.8 L107.4 327.8 L107.7 327.7 L108.0 327.7 L108.4 327.6 L108.7 327.5 L109.0 327.4 L109.4 327.3 L109.7 327.2 L110.0 327.1 L110.3 327.0 L110.7 326.9 L111.0 326.9 L111.3 326.9 L111.7 326.6 L112.0 326.3 L112.3 326.1 L112.7 325.9 L113.0 325.7 L113.3 325.6 L113.6 325.4 L114.0 325.4 L114.3 325.0 L114.6 324.8 L115.0 324.6 L115.3 324.6 L115.6 324.7 L116.0 324.7 L116.3 324.1 L116.6 324.3 L116.9 324.4 L117.3 324.3 L117.6 323.9 L117.9 324.0 L118.3 324.3 L118.6 324.4 L118.9 324.4 L119.3 324.5 L119.6 324.8 L119.9 324.7 L120.2 325.1 L120.6 325.2 L120.9 325.3 L121.2 325.3 L121.6 325.6 L121.9 325.9 L122.2 325.9 L122.6 326.3 L122.9 326.3 L123.2 326.5 L123.5 326.7 L123.9 327.0 L124.2 327.0 L124.5 326.9 L124.9 326.8 L125.2 326.7 L125.5 326.6 L125.9 326.4 L126.2 326.5 L126.5 326.4 L126.8 326.3 L127.2 326.2 L127.5 326.1 L127.8 326.0 L128.2 325.8 L128.5 325.8 L128.8 325.4 L129.2 325.4 L129.5 325.2 L129.8 325.1 L130.1 325.2 L130.5 325.0 L130.8 325.1 L131.1 325.2 L131.5 325.4 L131.8 325.3 L132.1 325.3 L132.5 325.6 L132.8 325.6 L133.1 325.7 L133.4 325.9 L133.8 325.9 L134.1 326.0 L134.4 326.0 L134.8 326.1 L135.1 326.1 L135.4 326.2 L135.8 326.3 L136.1 326.2 L136.4 326.4 L136.8 326.2 L137.1 326.4 L137.4 326.3 L137.7 326.4 L138.1 326.4 L138.4 326.4 L138.7 326.4 L139.1 326.5 L139.4 326.6 L139.7 326.7 L140.1 326.7 L140.4 326.7 L140.7 326.7 L141.0 326.8 L141.4 327.0 L141.7 327.0 L142.0 327.0 L142.4 326.9 L142.7 326.7 L143.0 326.7 L143.4 326.6 L143.7 326.3 L144.0 326.3 L144.3 326.1 L144.7 326.0 L145.0 325.8 L145.3 325.7 L145.7 325.9 L146.0 325.9 L146.3 326.0 L146.7 326.0 L147.0 326.2 L147.3 326.3 L147.6 326.3 L148.0 326.3 L148.3 326.3 L148.6 326.4 L149.0 326.4 L149.3 326.3 L149.6 326.2 L150.0 326.1 L150.3 326.0 L150.6 325.8 L150.9 325.6 L151.3 325.4 L151.6 325.2 L151.9 325.1 L152.3 324.7 L152.6 324.9 L152.9 324.5 L153.3 324.5 L153.6 324.5 L153.9 324.3 L154.2 324.5 L154.6 324.2 L154.9 324.3 L155.2 324.2 L155.6 323.8 L155.9 323.8 L156.2 323.8 L156.6 323.5 L156.9 323.4 L157.2 323.2 L157.5 323.2 L157.9 323.0 L158.2 323.0 L158.5 323.1 L158.9 323.1 L159.2 322.9 L159.5 322.8 L159.9 322.9 L160.2 322.7 L160.5 322.5 L160.8 322.9 L161.2 322.6 L161.5 322.9 L161.8 322.6 L162.2 323.1 L162.5 322.6 L162.8 322.9 L163.2 323.1 L163.5 322.6 L163.8 323.0 L164.1 322.6 L164.5 322.1 L164.8 322.4 L165.1 322.4 L165.5 322.0 L165.8 321.3 L166.1 321.6 L166.5 321.5 L166.8 321.3 L167.1 321.1 L167.4 320.3 L167.8 320.2 L168.1 320.6 L168.4 320.3 L168.8 319.3 L169.1 318.8 L169.4 319.3 L169.8 319.9 L170.1 320.0 L170.4 319.6 L170.7 320.1 L171.1 320.4 L171.4 321.0 L171.7 320.8 L172.1 320.3 L172.4 320.1 L172.7 319.2 L173.1 319.4 L173.4 318.4 L173.7 318.2 L174.0 318.1 L174.4 317.1 L174.7 316.6 L175.0 315.8 L175.4 316.2 L175.7 315.9 L176.0 315.5 L176.4 315.5 L176.7 313.9 L177.0 314.3 L177.3 314.5 L177.7 314.4 L178.0 315.0 L178.3 315.7 L178.7 314.8 L179.0 314.3 L179.3 314.4 L179.7 314.8 L180.0 315.2 L180.3 314.6 L180.6 315.5 L181.0 314.8 L181.3 315.6 L181.6 315.6 L182.0 315.7 L182.3 316.7 L182.6 315.7 L183.0 315.4 L183.3 315.3 L183.6 315.3 L183.9 313.8 L184.3 314.1 L184.6 313.4 L184.9 313.7 L185.3 314.0 L185.6 312.6 L185.9 311.6 L186.3 310.9 L186.6 307.9 L186.9 309.3 L187.2 309.0 L187.6 308.0 L187.9 306.8 L188.2 305.7 L188.6 305.4 L188.9 306.0 L189.2 304.5 L189.6 304.9 L189.9 300.6 L190.2 301.1 L190.5 301.5 L190.9 300.8 L191.2 299.4 L191.5 301.1 L191.9 304.2 L192.2 303.4 L192.5 304.3 L192.9 305.3 L193.2 306.8 L193.5 308.8 L193.8 310.0 L194.2 309.2 L194.5 312.1 L194.8 312.3 L195.2 313.1 L195.5 315.3 L195.8 314.7 L196.2 313.4 L196.5 313.0 L196.8 312.4 L197.1 311.7 L197.5 311.5 L197.8 311.9 L198.1 311.2 L198.5 309.5 L198.8 311.7 L199.1 309.4 L199.5 309.5 L199.8 309.3 L200.1 309.6 L200.4 308.8 L200.8 309.0 L201.1 310.2 L201.4 308.8 L201.8 307.3 L202.1 308.1 L202.4 307.5 L202.8 307.7 L203.1 308.2 L203.4 308.5 L203.7 308.2 L204.1 309.0 L204.4 308.4 L204.7 307.5 L205.1 309.0 L205.4 308.4 L205.7 309.6 L206.1 308.9 L206.4 310.0 L206.7 310.4 L207.0 308.7 L207.4 309.5 L207.7 310.3 L208.0 312.5 L208.4 311.2 L208.7 313.0 L209.0 313.9 L209.4 314.1 L209.7 314.2 L210.0 313.6 L210.3 313.8 L210.7 314.0 L211.0 314.2 L211.3 314.5 L211.7 314.1 L212.0 313.8 L212.3 313.8 L212.7 314.3 L213.0 312.9 L213.3 312.6 L213.6 312.8 L214.0 312.6 L214.3 312.5 L214.6 310.8 L215.0 311.6 L215.3 311.6 L215.6 312.1 L216.0 310.2 L216.3 310.6 L216.6 311.1 L216.9 311.2 L217.3 311.5 L217.6 311.4 L217.9 309.8 L218.3 310.4 L218.6 309.8 L218.9 309.2 L219.3 310.6 L219.6 309.2 L219.9 308.6 L220.2 308.9 L220.6 308.7 L220.9 310.2 L221.2 310.2 L221.6 311.0 L221.9 310.6 L222.2 309.9 L222.6 311.0 L222.9 310.2 L223.2 310.2 L223.5 310.6 L223.9 310.9 L224.2 311.9 L224.5 310.8 L224.9 310.9 L225.2 310.5 L225.5 309.3 L225.9 308.9 L226.2 309.2 L226.5 309.5 L226.8 309.4 L227.2 309.2 L227.5 308.7 L227.8 307.9 L228.2 308.2 L228.5 307.0 L228.8 306.1 L229.2 306.6 L229.5 305.6 L229.8 305.9 L230.1 305.5 L230.5 305.4 L230.8 305.6 L231.1 304.8 L231.5 305.1 L231.8 304.3 L232.1 306.0 L232.5 305.8 L232.8 307.0 L233.1 304.9 L233.4 306.2 L233.8 307.7 L234.1 305.9 L234.4 306.9 L234.8 307.4 L235.1 307.3 L235.4 305.8 L235.8 306.7 L236.1 306.7 L236.4 305.6 L236.7 306.7 L237.1 306.1 L237.4 305.8 L237.7 305.2 L238.1 305.8 L238.4 305.4 L238.7 306.1 L239.1 305.5 L239.4 304.2 L239.7 304.1 L240.0 305.1 L240.4 304.4 L240.7 305.2 L241.0 305.7 L241.4 305.4 L241.7 303.6 L242.0 305.5 L242.4 306.3 L242.7 306.6 L243.0 306.1 L243.3 307.9 L243.7 307.4 L244.0 306.9 L244.3 306.8 L244.7 307.7 L245.0 306.8 L245.3 306.7 L245.7 309.2 L246.0 309.3 L246.3 309.2 L246.6 309.5 L247.0 309.0 L247.3 307.1 L247.6 309.0 L248.0 309.6 L248.3 309.2 L248.6 307.2 L249.0 309.1 L249.3 309.5 L249.6 308.0 L249.9 307.9 L250.3 308.3 L250.6 307.5 L250.9 308.1 L251.3 307.3 L251.6 307.4 L251.9 306.8 L252.3 305.1 L252.6 304.9 L252.9 308.7 L253.2 307.1 L253.6 307.7 L253.9 307.7 L254.2 308.2 L254.6 307.4 L254.9 306.2 L255.2 306.5 L255.6 305.0 L255.9 306.1 L256.2 307.4 L256.5 304.9 L256.9 306.3 L257.2 307.1 L257.5 307.7 L257.9 305.7 L258.2 305.3 L258.5 303.5 L258.9 303.4 L259.2 304.4 L259.5 305.7 L259.8 302.4 L260.2 303.7 L260.5 302.6 L260.8 300.9 L261.2 302.9 L261.5 298.1 L261.8 299.2 L262.2 299.5 L262.5 301.4 L262.8 301.2 L263.1 301.3 L263.5 298.8 L263.8 298.8 L264.1 298.9 L264.5 297.7 L264.8 297.0 L265.1 295.8 L265.5 294.8 L265.8 293.1 L266.1 295.6 L266.4 293.2 L266.8 290.4 L267.1 291.6 L267.4 291.2 L267.8 290.8 L268.1 291.9 L268.4 290.3 L268.8 289.7 L269.1 289.1 L269.4 289.7 L269.7 289.4 L270.1 290.0 L270.4 293.3 L270.7 291.2 L271.1 289.3 L271.4 291.9 L271.7 291.4 L272.1 291.2 L272.4 291.0 L272.7 291.1 L273.0 291.0 L273.4 291.8 L273.7 291.1 L274.0 290.7 L274.4 288.0 L274.7 287.4 L275.0 285.9 L275.4 286.8 L275.7 286.3 L276.0 284.3 L276.3 284.3 L276.7 286.0 L277.0 284.7 L277.3 281.6 L277.7 281.6 L278.0 282.1 L278.3 281.3 L278.7 281.2 L279.0 281.8 L279.3 280.7 L279.6 278.6 L280.0 279.7 L280.3 278.9 L280.6 278.4 L281.0 277.1 L281.3 275.5 L281.6 274.8 L282.0 275.1 L282.3 274.0 L282.6 271.5 L282.9 274.6 L283.3 272.4 L283.6 271.8 L283.9 272.2 L284.3 268.5 L284.6 270.9 L284.9 268.6 L285.3 268.9 L285.6 267.0 L285.9 266.7 L286.2 267.5 L286.6 269.0 L286.9 268.5 L287.2 269.9 L287.6 273.0 L287.9 276.4 L288.2 275.1 L288.6 276.2 L288.9 276.3 L289.2 276.9 L289.5 277.9 L289.9 275.9 L290.2 278.1 L290.5 278.8 L290.9 279.5 L291.2 279.8 L291.5 280.6 L291.9 281.3 L292.2 282.0 L292.5 285.6 L292.8 285.2 L293.2 282.9 L293.5 282.7 L293.8 280.4 L294.2 277.5 L294.5 277.4 L294.8 279.1 L295.2 280.5 L295.5 278.9 L295.8 277.2 L296.1 278.1 L296.5 277.7 L296.8 277.5 L297.1 279.0 L297.5 279.4 L297.8 279.4 L298.1 279.6 L298.5 279.8 L298.8 281.4 L299.1 283.3 L299.4 281.3 L299.8 282.9 L300.1 278.7 L300.4 279.1 L300.8 277.1 L301.1 277.2 L301.4 276.9 L301.8 276.8 L302.1 277.0 L302.4 274.9 L302.7 273.1 L303.1 273.4 L303.4 273.6 L303.7 272.5 L304.1 274.8 L304.4 276.8 L304.7 274.6 L305.1 276.6 L305.4 278.3 L305.7 277.3 L306.0 281.3 L306.4 283.7 L306.7 284.9 L307.0 289.9 L307.4 291.3 L307.7 292.2 L308.0 294.7 L308.4 294.1 L308.7 293.4 L309.0 292.3 L309.3 291.1 L309.7 289.7 L310.0 291.6 L310.3 293.8 L310.7 292.5 L311.0 298.5 L311.3 298.5 L311.7 296.7 L312.0 292.1 L312.3 290.6 L312.6 287.5 L313.0 283.4 L313.3 283.3 L313.6 283.0 L314.0 283.2 L314.3 284.0 L314.6 283.8 L315.0 285.3 L315.3 284.9 L315.6 286.1 L315.9 289.5 L316.3 293.5 L316.6 296.1 L316.9 298.6 L317.3 299.6 L317.6 299.9 L317.9 301.4 L318.3 303.6 L318.6 304.6 L318.9 304.2 L319.2 303.2 L319.6 302.9 L319.9 304.6 L320.2 305.8 L320.6 305.5 L320.9 303.1 L321.2 302.1 L321.6 301.1 L321.9 298.4 L322.2 297.8 L322.5 296.4 L322.9 294.9 L323.2 293.7 L323.5 295.0 L323.9 294.4 L324.2 292.4 L324.5 291.3 L324.9 292.6 L325.2 292.1 L325.5 290.5 L325.8 292.0 L326.2 290.2 L326.5 288.8 L326.8 290.5 L327.2 289.4 L327.5 289.5 L327.8 289.0 L328.2 288.1 L328.5 288.5 L328.8 290.3 L329.1 293.1 L329.5 291.9 L329.8 294.8 L330.1 292.9 L330.5 289.6 L330.8 288.9 L331.1 287.7 L331.5 284.5 L331.8 281.2 L332.1 282.4 L332.4 280.3 L332.8 280.6 L333.1 277.4 L333.4 277.7 L333.8 276.3 L334.1 274.4 L334.4 274.5 L334.8 274.2 L335.1 274.1 L335.4 274.8 L335.7 277.6 L336.1 277.4 L336.4 280.9 L336.7 281.7 L337.1 283.0 L337.4 282.4 L337.7 281.6 L338.1 281.3 L338.4 280.8 L338.7 279.4 L339.0 282.7 L339.4 283.1 L339.7 282.9 L340.0 282.4 L340.4 285.7 L340.7 286.0 L341.0 284.8 L341.4 287.0 L341.7 289.4 L342.0 288.5 L342.3 289.2 L342.7 288.0 L343.0 287.0 L343.3 288.1 L343.7 290.1 L344.0 287.1 L344.3 285.6 L344.7 285.8 L345.0 284.3 L345.3 284.6 L345.6 284.4 L346.0 281.9 L346.3 280.8 L346.6 281.1 L347.0 281.7 L347.3 280.7 L347.6 281.0 L348.0 277.8 L348.3 278.5 L348.6 277.0 L348.9 276.9 L349.3 277.8 L349.6 277.1 L349.9 278.3 L350.3 278.1 L350.6 280.1 L350.9 279.9 L351.2 280.7 L351.6 282.2 L351.9 281.7 L352.2 283.2 L352.6 281.6 L352.9 282.6 L353.2 282.2 L353.6 280.5 L353.9 280.9 L354.2 280.2 L354.5 280.3 L354.9 280.1 L355.2 282.0 L355.5 279.7 L355.9 281.0 L356.2 279.8 L356.5 277.3 L356.9 275.3 L357.2 278.2 L357.5 276.4 L357.8 279.0 L358.2 280.3 L358.5 280.2 L358.8 279.8 L359.2 279.0 L359.5 279.0 L359.8 278.0 L360.2 277.2 L360.5 276.8 L360.8 277.9 L361.1 276.0 L361.5 276.0 L361.8 273.6 L362.1 272.9 L362.5 271.3 L362.8 271.5 L363.1 271.8 L363.5 271.2 L363.8 269.9 L364.1 270.5 L364.4 269.3 L364.8 269.5 L365.1 269.1 L365.4 269.0 L365.8 265.4 L366.1 265.6 L366.4 267.6 L366.8 266.9 L367.1 269.0 L367.4 266.6 L367.7 265.4 L368.1 267.1 L368.4 266.2 L368.7 267.2 L369.1 265.7 L369.4 264.3 L369.7 264.7 L370.1 262.9 L370.4 261.6 L370.7 260.1 L371.0 259.1 L371.4 259.0 L371.7 256.6 L372.0 255.8 L372.4 253.5 L372.7 253.3 L373.0 248.2 L373.4 248.5 L373.7 247.8 L374.0 245.4 L374.3 246.2 L374.7 244.7 L375.0 244.6 L375.3 247.0 L375.7 249.1 L376.0 250.6 L376.3 251.6 L376.7 253.3 L377.0 254.4 L377.3 256.3 L377.6 256.6 L378.0 260.6 L378.3 257.1 L378.6 259.5 L379.0 257.9 L379.3 257.0 L379.6 257.5 L380.0 256.0 L380.3 253.8 L380.6 254.5 L380.9 255.2 L381.3 254.1 L381.6 257.0 L381.9 257.1 L382.3 258.2 L382.6 260.6 L382.9 261.8 L383.3 262.3 L383.6 265.9 L383.9 265.7 L384.2 265.4 L384.6 265.3 L384.9 263.7 L385.2 260.1 L385.6 258.9 L385.9 257.8 L386.2 260.3 L386.6 258.5 L386.9 257.7 L387.2 257.0 L387.5 258.2 L387.9 257.2 L388.2 258.9 L388.5 259.0 L388.9 260.5 L389.2 259.4 L389.5 260.2 L389.9 260.0 L390.2 260.3 L390.5 258.8 L390.8 259.7 L391.2 259.7 L391.5 260.0 L391.8 262.0 L392.2 260.3 L392.5 260.0 L392.8 258.6 L393.2 257.5 L393.5 256.3 L393.8 253.8 L394.1 254.3 L394.5 252.8 L394.8 251.8 L395.1 253.0 L395.5 253.9 L395.8 249.9 L396.1 251.0 L396.5 249.4 L396.8 246.4 L397.1 246.1 L397.4 245.3 L397.8 244.7 L398.1 243.3 L398.4 241.4 L398.8 241.9 L399.1 242.4 L399.4 242.2 L399.8 241.8 L400.1 241.9 L400.4 239.3 L400.7 239.5 L401.1 239.8 L401.4 240.7 L401.7 240.1 L402.1 240.4 L402.4 240.1 L402.7 242.3 L403.1 238.2 L403.4 239.9 L403.7 243.4 L404.0 242.0 L404.4 239.6 L404.7 241.4 L405.0 240.7 L405.4 242.2 L405.7 244.3 L406.0 247.2 L406.4 247.3 L406.7 248.3 L407.0 249.5 L407.3 249.5 L407.7 248.9 L408.0 250.2 L408.3 251.5 L408.7 251.4 L409.0 249.8 L409.3 249.0 L409.7 246.9 L410.0 246.1 L410.3 246.1 L410.6 245.1 L411.0 244.5 L411.3 245.0 L411.6 243.2 L412.0 241.6 L412.3 239.1 L412.6 237.8 L413.0 238.3 L413.3 236.3 L413.6 236.5 L413.9 233.9 L414.3 233.8 L414.6 232.7 L414.9 232.8 L415.3 230.3 L415.6 228.8 L415.9 228.3 L416.3 227.1 L416.6 227.7 L416.9 224.5 L417.2 222.4 L417.6 221.1 L417.9 220.8 L418.2 219.4 L418.6 218.7 L418.9 216.4 L419.2 221.2 L419.6 222.2 L419.9 220.5 L420.2 219.2 L420.5 220.8 L420.9 219.8 L421.2 215.0 L421.5 215.4 L421.9 212.3 L422.2 212.8 L422.5 215.7 L422.9 220.6 L423.2 222.4 L423.5 224.2 L423.8 221.7 L424.2 217.7 L424.5 215.8 L424.8 214.8 L425.2 212.2 L425.5 211.8 L425.8 210.7 L426.2 212.4 L426.5 208.3 L426.8 212.3 L427.1 212.2 L427.5 216.3 L427.8 215.7 L428.1 216.2 L428.5 215.1 L428.8 215.5 L429.1 211.2 L429.5 211.8 L429.8 209.2 L430.1 212.4 L430.4 212.5 L430.8 214.7 L431.1 215.6 L431.4 219.5 L431.8 218.9 L432.1 219.8 L432.4 223.2 L432.8 222.4 L433.1 223.7 L433.4 223.1 L433.7 224.8 L434.1 223.0 L434.4 224.8 L434.7 223.4 L435.1 221.1 L435.4 219.8 L435.7 221.8 L436.1 220.6 L436.4 216.2 L436.7 217.8 L437.0 213.5 L437.4 211.4 L437.7 210.2 L438.0 207.1 L438.4 205.9 L438.7 206.6 L439.0 209.2 L439.4 209.4 L439.7 206.0 L440.0 209.7 L440.3 210.1 L440.7 211.8 L441.0 212.6 L441.3 214.2 L441.7 213.7 L442.0 211.6 L442.3 210.1 L442.7 208.8 L443.0 208.4 L443.3 204.6 L443.6 206.2 L444.0 202.4 L444.3 200.4 L444.6 200.5 L445.0 199.0 L445.3 196.4 L445.6 193.3 L446.0 191.2 L446.3 188.4 L446.6 190.2 L446.9 189.2 L447.3 189.0 L447.6 189.3 L447.9 190.6 L448.3 193.0 L448.6 195.4 L448.9 195.8 L449.3 196.9 L449.6 198.4 L449.9 192.5 L450.2 190.6 L450.6 189.8 L450.9 191.2 L451.2 191.3 L451.6 188.3 L451.9 189.2 L452.2 188.4 L452.6 188.8 L452.9 187.8 L453.2 188.3 L453.5 188.5 L453.9 190.3 L454.2 192.7 L454.5 188.6 L454.9 191.9 L455.2 192.9 L455.5 195.5 L455.9 197.2 L456.2 198.2 L456.5 195.8 L456.8 190.1 L457.2 185.2 L457.5 186.5 L457.8 183.8 L458.2 177.8 L458.5 177.6 L458.8 174.4 L459.2 166.7 L459.5 167.8 L459.8 162.7 L460.1 161.7 L460.5 155.5 L460.8 150.9 L461.1 145.3 L461.5 143.0 L461.8 141.5 L462.1 134.1 L462.5 124.7 L462.8 124.8 L463.1 119.4 L463.4 113.7 L463.8 112.5 L464.1 113.1 L464.4 112.8 L464.8 117.6 L465.1 120.5 L465.4 116.4 L465.8 117.2 L466.1 116.8 L466.4 118.1 L466.7 122.4 L467.1 128.9 L467.4 129.1 L467.7 135.1 L468.1 141.4 L468.4 144.7 L468.7 150.3 L469.1 154.4 L469.4 163.9 L469.7 167.7 L470.0 172.6 L470.4 176.1 L470.7 176.6 L471.0 171.0 L471.4 166.1 L471.7 163.8 L472.0 158.2 L472.4 155.3 L472.7 148.6 L473.0 143.9 L473.3 147.8 L473.7 143.3 L474.0 138.6 L474.3 138.3 L474.7 140.1 L475.0 138.6 L475.3 141.3 L475.7 145.6 L476.0 147.8 L476.3 154.6 L476.6 159.8 L477.0 163.4 L477.3 157.2 L477.6 152.3 L478.0 148.3 L478.3 151.2 L478.6 154.4 L479.0 156.0 L479.3 161.3 L479.6 168.9 L479.9 169.3 L480.3 174.3 L480.6 179.4 L480.9 183.6 L481.3 186.6 L481.6 190.2 L481.9 188.9 L482.3 184.9 L482.6 180.7 L482.9 174.8 L483.2 172.5 L483.6 169.7 L483.9 166.1 L484.2 164.9 L484.6 165.4 L484.9 157.3 L485.2 157.7 L485.6 153.7 L485.9 151.5 L486.2 151.8 L486.5 152.2 L486.9 150.5 L487.2 147.0 L487.5 146.8 L487.9 149.2 L488.2 151.5 L488.5 151.5 L488.9 149.9 L489.2 152.0 L489.5 145.9 L489.8 143.4 L490.2 143.9 L490.5 148.3 L490.8 153.8 L491.2 156.2 L491.5 158.5 L491.8 156.7 L492.2 156.5 L492.5 162.7 L492.8 161.6 L493.1 164.8 L493.5 168.3 L493.8 170.2 L494.1 171.6 L494.5 168.5 L494.8 167.3 L495.1 170.7 L495.5 170.7 L495.8 170.2 L496.1 166.8 L496.4 166.0 L496.8 168.2 L497.1 169.2 L497.4 172.2 L497.8 171.8 L498.1 177.3 L498.4 177.1 L498.8 178.9 L499.1 182.9 L499.4 184.1 L499.7 183.8 L500.1 187.4 L500.4 191.0 L500.7 188.5 L501.1 190.0 L501.4 189.9 L501.7 189.3 L502.1 193.6 L502.4 195.5 L502.7 193.4 L503.0 189.5 L503.4 182.5 L503.7 181.3 L504.0 179.5 L504.4 181.0 L504.7 183.2 L505.0 188.3 L505.4 189.8 L505.7 193.6 L506.0 192.8 L506.3 189.5 L506.7 193.1 L507.0 194.9 L507.3 190.8 L507.7 185.6 L508.0 186.5 L508.3 180.6 L508.7 183.3 L509.0 182.6 L509.3 184.8 L509.6 186.0 L510.0 190.9 L510.3 190.2 L510.6 186.4 L511.0 182.7 L511.3 182.4 L511.6 181.6 L512.0 179.9 L512.3 180.8 L512.6 183.4 L512.9 186.0 L513.3 186.4 L513.6 184.8 L513.9 180.4 L514.3 175.9 L514.6 177.7 L514.9 175.4 L515.3 175.1 L515.6 173.6 L515.9 172.6 L516.2 167.6 L516.6 167.5 L516.9 162.7 L517.2 159.9 L517.6 156.8 L517.9 154.5 L518.2 152.8 L518.6 148.0 L518.9 148.1 L519.2 151.7 L519.5 149.5 L519.9 148.6 L520.2 147.9 L520.5 145.4 L520.9 144.3 L521.2 143.6 L521.5 146.2 L521.9 147.2 L522.2 151.9 L522.5 152.8 L522.8 157.2 L523.2 156.6 L523.5 154.7 L523.8 160.1 L524.2 160.1 L524.5 162.5 L524.8 162.6 L525.2 163.4 L525.5 165.9 L525.8 165.9 L526.1 165.5 L526.5 163.9 L526.8 162.5 L527.1 159.4 L527.5 159.1 L527.8 158.3 L528.1 159.9 L528.5 159.1 L528.8 157.1 L529.1 159.2 L529.4 158.9 L529.8 160.8 L530.1 161.5 L530.4 161.8 L530.8 163.5 L531.1 162.0 L531.4 165.4 L531.8 165.8 L532.1 165.2 L532.4 167.0 L532.7 169.8 L533.1 169.3 L533.4 171.9 L533.7 173.5 L534.1 176.3 L534.4 172.0 L534.7 171.8 L535.1 172.1 L535.4 173.1 L535.7 170.8 L536.0 170.4 L536.4 166.1 L536.7 166.2 L537.0 170.6 L537.4 169.1 L537.7 173.1 L538.0 170.0 L538.4 170.5 L538.7 169.1 L539.0 173.0 L539.3 174.0 L539.7 177.7 L540.0 176.4 L540.3 176.0 L540.7 181.2 L541.0 184.3 L541.3 187.9 L541.7 189.7 L542.0 190.6 L542.3 189.8 L542.6 187.9 L543.0 188.1 L543.3 187.2 L543.6 184.4 L544.0 188.2 L544.3 187.1 L544.6 184.6 L545.0 186.1 L545.3 186.2 L545.6 187.6 L545.9 189.7 L546.3 184.4 L546.6 189.2 L546.9 192.6 L547.3 190.7 L547.6 191.7 L547.9 198.3 L548.3 205.1 L548.6 228.1 L548.9 222.7 L549.2 219.4 L549.6 217.2 L549.9 217.1 L550.2 218.1 L550.6 215.0 L550.9 212.1 L551.2 209.6 L551.6 216.4 L551.9 218.7 L552.2 221.6 L552.5 223.4 L552.9 228.3 L553.2 226.0 L553.5 226.6 L553.9 225.9 L554.2 225.1 L554.5 225.4 L554.9 222.9 L555.2 224.6 L555.5 227.5 L555.8 226.7 L556.2 229.1 L556.5 228.7 L556.8 229.0 L557.2 226.2 L557.5 230.1 L557.8 238.0 L558.2 243.8 L558.5 247.3 L558.8 249.7 L559.1 253.9 L559.5 254.1 L559.8 253.2 L560.1 251.9 L560.5 249.0 L560.8 248.9 L561.1 247.4 L561.5 245.3 L561.8 243.4 L562.1 239.6 L562.4 239.2 L562.8 236.4 L563.1 237.4 L563.4 239.6 L563.8 241.8 L564.1 243.2 L564.4 244.3 L564.8 241.8 L565.1 240.4 L565.4 237.0 L565.7 233.5 L566.1 232.5 L566.4 232.6 L566.7 229.1 L567.1 226.1 L567.4 227.0 L567.7 226.4 L568.1 225.3 L568.4 226.2 L568.7 228.0 L569.0 232.8 L569.4 231.8 L569.7 233.9 L570.0 235.1 L570.4 234.0 L570.7 236.0 L571.0 237.6 L571.4 240.7 L571.7 241.8 L572.0 244.8 L572.3 243.9 L572.7 245.1 L573.0 245.8 L573.3 246.8 L573.7 249.9 L574.0 246.6 L574.3 245.9 L574.7 244.3 L575.0 240.5 L575.3 239.8 L575.7 237.1 L576.0 236.8 L576.3 238.3 L576.6 239.5 L577.0 240.3 L577.3 243.8 L577.6 243.4 L578.0 245.1 L578.3 247.3 L578.6 247.5 L579.0 248.7 L579.3 250.1 L579.6 250.9 L579.9 252.4 L580.3 249.7 L580.6 253.2 L580.9 252.4 L581.3 250.6 L581.6 251.9 L581.9 251.8 L582.3 253.7 L582.6 253.1 L582.9 254.1 L583.2 256.3 L583.6 257.3 L583.9 257.1 L584.2 258.2 L584.6 257.7 L584.9 257.2 L585.2 256.3 L585.6 255.3 L585.9 255.6 L586.2 252.3 L586.5 252.1 L586.9 252.4 L587.2 251.9 L587.5 251.5 L587.9 251.4 L588.2 252.0 L588.5 253.2 L588.9 251.8 L589.2 251.3 L589.5 251.7 L589.8 251.1 L590.2 247.7 L590.5 248.1 L590.8 246.3 L591.2 244.5 L591.5 244.2 L591.8 242.5 L592.2 240.8 L592.5 237.9 L592.8 237.0 L593.1 238.1 L593.5 237.6 L593.8 237.5 L594.1 236.7 L594.5 235.1 L594.8 233.1 L595.1 232.3 L595.5 232.6 L595.8 232.8 L596.1 236.3 L596.4 235.8 L596.8 236.2 L597.1 239.2 L597.4 239.2 L597.8 244.1 L598.1 243.3 L598.4 245.2 L598.8 245.8 L599.1 244.8 L599.4 243.2 L599.7 242.5 L600.1 245.1 L600.4 245.7 L600.7 246.9 L601.1 242.8 L601.4 244.4 L601.7 244.3 L602.1 245.5 L602.4 244.4 L602.7 245.8 L603.0 246.5 L603.4 246.5 L603.7 247.7 L604.0 246.3 L604.4 248.3 L604.7 247.0 L605.0 249.9 L605.4 246.4 L605.7 249.2 L606.0 249.6 L606.3 251.2 L606.7 253.4 L607.0 252.8 L607.3 251.1 L607.7 251.7 L608.0 247.6 L608.3 246.6 L608.7 248.2 L609.0 246.5 L609.3 242.7 L609.6 244.2 L610.0 242.4 L610.3 244.5 L610.6 244.2 L611.0 241.8 L611.3 242.9 L611.6 240.2 L612.0 241.9 L612.3 242.4 L612.6 242.2 L612.9 241.1 L613.3 242.6 L613.6 241.1 L613.9 243.1 L614.3 242.6 L614.6 245.7 L614.9 244.0 L615.3 241.8 L615.6 244.7 L615.9 245.1 L616.2 244.1 L616.6 246.8 L616.9 245.9 L617.2 244.8 L617.6 244.1 L617.9 241.8 L618.2 245.5 L618.6 247.4 L618.9 246.6 L619.2 245.9 L619.5 247.7 L619.9 246.8 L620.2 249.1 L620.5 251.2 L620.9 253.2 L621.2 253.0 L621.5 253.5 L621.9 254.9 L622.2 256.4 L622.5 255.4 L622.8 254.6 L623.2 255.4 L623.5 255.6 L623.8 256.5 L624.2 258.1 L624.5 258.5 L624.8 257.8 L625.2 257.1 L625.5 255.9 L625.8 256.0 L626.1 256.0 L626.5 255.4 L626.8 255.9 L627.1 255.4 L627.5 256.4 L627.8 259.7 L628.1 259.9 L628.5 261.2 L628.8 261.0 L629.1 262.0 L629.4 260.7 L629.8 259.5 L630.1 260.2 L630.4 259.8 L630.8 261.0 L631.1 259.8 L631.4 259.8 L631.8 259.3 L632.1 259.6 L632.4 258.4 L632.7 259.8 L633.1 257.1 L633.4 257.4 L633.7 256.9 L634.1 258.1 L634.4 257.8 L634.7 258.5 L635.1 258.1 L635.4 257.8 L635.7 257.5 L636.0 258.6 L636.4 258.8 L636.7 260.1 L637.0 259.5 L637.4 259.1 L637.7 257.0 L638.0 255.0 L638.4 253.3 L638.7 253.3 L639.0 252.8 L639.3 253.6 L639.7 251.0 L640.0 251.3 L640.3 250.7 L640.7 247.6 L641.0 250.7 L641.3 252.3 L641.7 254.0 L642.0 253.9 L642.3 255.9 L642.6 255.4 L643.0 256.3 L643.3 257.1 L643.6 259.9 L644.0 259.0 L644.3 260.5 L644.6 260.0 L645.0 259.2 L645.3 260.2 L645.6 261.1 L645.9 260.0 L646.3 261.4 L646.6 260.5 L646.9 260.1 L647.3 261.0 L647.6 260.7 L647.9 259.7 L648.3 258.6 L648.6 260.1 L648.9 260.6 L649.2 259.8 L649.6 260.3 L649.9 258.4 L650.2 260.2 L650.6 260.9 L650.9 261.1 L651.2 260.3 L651.6 261.1 L651.9 261.5 L652.2 262.9 L652.5 262.4 L652.9 261.9 L653.2 260.5 L653.5 261.6 L653.9 262.0 L654.2 260.0 L654.5 260.5 L654.9 260.0 L655.2 259.3 L655.5 257.5 L655.8 260.6 L656.2 257.9 L656.5 259.9 L656.8 260.0 L657.2 262.0 L657.5 261.2 L657.8 261.8 L658.2 263.0 L658.5 263.4 L658.8 262.7 L659.1 263.7 L659.5 263.5 L659.8 264.1 L660.1 262.5 L660.5 262.6 L660.8 262.2 L661.1 261.5 L661.5 263.0 L661.8 264.3 L662.1 266.3 L662.4 265.5 L662.8 266.7 L663.1 268.5 L663.4 268.2 L663.8 268.9 L664.1 269.9 L664.4 270.0 L664.8 270.5 L665.1 273.6 L665.4 274.1 L665.7 274.3 L666.1 272.7 L666.4 273.6 L666.7 274.8 L667.1 272.3 L667.4 271.8 L667.7 273.7 L668.1 274.4 L668.4 274.1 L668.7 271.1 L669.0 271.0 L669.4 268.9 L669.7 269.2 L670.0 267.9 L670.4 269.1 L670.7 271.2 L671.0 271.3 L671.4 271.2 L671.7 272.1 L672.0 272.7 L672.3 271.7 L672.7 272.0 L673.0 272.3 L673.3 273.3 L673.7 269.4 L674.0 269.2 L674.3 268.9 L674.7 271.0 L675.0 273.1 L675.3 271.1 L675.6 270.4 L676.0 271.2 L676.3 267.3 L676.6 268.7 L677.0 265.6 L677.3 267.7 L677.6 266.9 L678.0 266.2 L678.3 266.3 L678.6 264.7 L678.9 266.9 L679.3 267.5 L679.6 269.2 L679.9 273.0 L680.3 271.8 L680.6 274.0 L680.9 272.9 L681.3 275.3 L681.6 275.9 L681.9 275.5 L682.2 276.8 L682.6 278.1 L682.9 278.6 L683.2 277.4 L683.6 277.0 L683.9 278.3 L684.2 275.8 L684.6 276.2 L684.9 277.5 L685.2 278.0 L685.5 279.6 L685.9 279.9 L686.2 278.5 L686.5 278.1 L686.9 275.9 L687.2 276.5 L687.5 277.0 L687.9 276.5 L688.2 276.5 L688.5 277.0 L688.8 275.3 L689.2 275.0 L689.5 273.4 L689.8 275.9 L690.2 273.9 L690.5 272.4 L690.8 274.5 L691.2 273.7 L691.5 274.0 L691.8 271.7 L692.1 273.1 L692.5 271.0 L692.8 269.1 L693.1 267.7 L693.5 265.8 L693.8 265.2 L694.1 265.2 L694.5 261.5 L694.8 258.6 L695.1 258.9 L695.4 259.1 L695.8 255.9 L696.1 255.5 L696.4 254.5 L696.8 255.5 L697.1 255.4 L697.4 253.8 L697.8 252.7 L698.1 254.2 L698.4 251.3 L698.7 253.3 L699.1 253.6 L699.4 256.5 L699.7 256.7 L700.1 255.5 L700.4 256.0 L700.7 256.5 L701.1 256.1 L701.4 256.9 L701.7 258.2 L702.0 255.8 L702.4 256.7 L702.7 258.9 L703.0 258.6 L703.4 256.4 L703.7 255.3 L704.0 254.5 L704.4 253.0 L704.7 255.1 L705.0 254.0 L705.3 252.6 L705.7 251.1 L706.0 251.6 L706.3 251.2 L706.7 253.2 L707.0 251.5 L707.3 252.5 L707.7 254.5 L708.0 255.2 L708.3 255.1 L708.6 253.6 L709.0 257.6 L709.3 258.2 L709.6 257.8 L710.0 258.5 L710.3 258.3 L710.6 258.7 L711.0 256.4 L711.3 256.6 L711.6 255.3 L711.9 253.3 L712.3 252.2 L712.6 250.5 L712.9 248.9 L713.3 246.6 L713.6 246.8 L713.9 246.7 L714.3 245.2 L714.6 245.1 L714.9 242.9 L715.2 241.5 L715.6 243.3 L715.9 241.3 L716.2 241.5 L716.6 241.6 L716.9 242.3 L717.2 242.6 L717.6 242.7 L717.9 241.8 L718.2 245.8 L718.5 244.4 L718.9 241.4 L719.2 241.4 L719.5 240.9 L719.9 240.8 L720.2 239.1 L720.5 242.8 L720.9 245.4 L721.2 244.4 L721.5 245.8 L721.8 246.4 L722.2 244.2 L722.5 246.1 L722.8 243.1 L723.2 243.3 L723.5 243.3 L723.8 245.1 L724.2 244.6 L724.5 244.5 L724.8 243.9 L725.1 245.0 L725.5 245.5 L725.8 246.6 L726.1 247.9 L726.5 248.3 L726.8 248.7 L727.1 249.6 L727.5 252.8 L727.8 253.0 L728.1 253.8 L728.4 255.8 L728.8 256.1 L729.1 255.2 L729.4 254.4 L729.8 253.7 L730.1 255.2 L730.4 253.6 L730.8 254.3 L731.1 252.3 L731.4 252.5 L731.7 252.5 L732.1 252.9 L732.4 254.1 L732.7 255.5 L733.1 255.1 L733.4 256.0 L733.7 258.1 L734.1 261.6 L734.4 261.3 L734.7 261.2 L735.0 262.3 L735.4 264.2 L735.7 266.8 L736.0 266.4 L736.4 268.2 L736.7 268.4 L737.0 268.2 L737.4 267.8 L737.7 268.9 L738.0 268.8 L738.3 270.5 L738.7 268.7 L739.0 270.8 L739.3 270.3 L739.7 269.5 L740.0 269.7 L740.3 268.2 L740.7 264.8 L741.0 265.3 L741.3 265.3 L741.6 264.0 L742.0 262.9 L742.3 264.1 L742.6 264.2 L743.0 263.0 L743.3 262.6 L743.6 262.0 L744.0 261.5 L744.3 261.7 L744.6 262.7 L744.9 259.7 L745.3 260.0 L745.6 261.9 L745.9 260.7 L746.3 259.9 L746.6 260.1 L746.9 257.9 L747.3 257.4 L747.6 256.8 L747.9 257.0 L748.2 258.9 L748.6 260.2 L748.9 259.3 L749.2 259.1 L749.6 260.4 L749.9 261.2 L750.2 261.3 L750.6 259.2 L750.9 259.7 L751.2 257.1 L751.5 259.0 L751.9 257.8 L752.2 257.2 L752.5 258.9 L752.9 258.7 L753.2 257.4 L753.5 256.4 L753.9 255.7 L754.2 254.4 L754.5 254.2 L754.8 255.9 L755.2 253.0 L755.5 252.6 L755.8 254.1 L756.2 255.8 L756.5 256.7 L756.8 255.5 L757.2 256.7 L757.5 257.3 L757.8 257.0 L758.1 258.9 L758.5 258.3 L758.8 259.1 L759.1 258.2 L759.5 256.2 L759.8 256.1 L760.1 255.1 L760.5 254.1 L760.8 253.7 L761.1 255.0 L761.4 253.4 L761.8 251.3 L762.1 251.4 L762.4 253.5 L762.8 256.3 L763.1 254.2 L763.4 255.1 L763.8 256.0 L764.1 255.8 L764.4 258.0 L764.7 258.4 L765.1 259.2 L765.4 261.9 L765.7 260.2 L766.1 261.3 L766.4 262.0 L766.7 260.7 L767.1 259.8 L767.4 261.4 L767.7 260.5 L768.0 259.2 L768.4 257.1 L768.7 258.3 L769.0 257.8 L769.4 259.1 L769.7 258.4 L770.0 257.2 L770.4 256.0 L770.7 255.2 L771.0 254.0 L771.3 254.3 L771.7 254.0 L772.0 253.8 L772.3 253.7 L772.7 252.4 L773.0 250.6 L773.3 251.1 L773.7 251.5 L774.0 248.5 L774.3 248.5 L774.6 248.1 L775.0 247.5 L775.3 246.7 L775.6 245.4 L776.0 245.6 L776.3 248.6 L776.6 250.2 L777.0 248.1 L777.3 247.1 L777.6 250.3 L777.9 250.4 L778.3 251.0 L778.6 250.4 L778.9 252.7 L779.3 253.1 L779.6 252.6 L779.9 254.1 L780.3 256.2 L780.6 255.8 L780.9 255.4 L781.2 253.7 L781.6 254.4 L781.9 254.0 L782.2 255.2 L782.6 255.0 L782.9 254.4 L783.2 254.9 L783.6 253.7 L783.9 254.9 L784.2 255.8 L784.5 253.9 L784.9 254.3 L785.2 251.9 L785.5 254.0 L785.9 254.3 L786.2 252.6 L786.5 255.7 L786.9 255.1 L787.2 253.4 L787.5 253.8 L787.8 256.7 L788.2 256.4 L788.5 258.2 L788.8 256.1 L789.2 257.4 L789.5 258.6 L789.8 255.8 L790.2 255.5 L790.5 253.2 L790.8 252.4 L791.1 251.3 L791.5 252.6 L791.8 248.7 L792.1 249.3 L792.5 249.4 L792.8 246.2 L793.1 246.4 L793.5 248.6 L793.8 247.4 L794.1 242.4 L794.4 243.8 L794.8 242.3 L795.1 244.5 L795.4 244.2 L795.8 244.6 L796.1 244.6 L796.4 246.1 L796.8 245.9 L797.1 245.6 L797.4 246.5 L797.7 247.6 L798.1 246.7 L798.4 248.8 L798.7 246.5 L799.1 248.4 L799.4 248.2 L799.7 250.4 L800.1 248.8 L800.4 248.6 L800.7 247.4 L801.0 250.4 L801.4 249.5 L801.7 247.2 L802.0 247.1 L802.4 246.2 L802.7 248.4 L803.0 247.6 L803.4 244.5 L803.7 246.1 L804.0 247.0 L804.3 246.1 L804.7 246.3 L805.0 245.5 L805.3 245.5 L805.7 245.3 L806.0 244.1 L806.3 244.8 L806.7 244.7 L807.0 245.1 L807.3 245.0 L807.6 245.1 L808.0 247.0 L808.3 248.6 L808.6 245.9 L809.0 247.5 L809.3 250.3 L809.6 250.8 L810.0 249.5 L810.3 251.7 L810.6 250.0 L810.9 250.2 L811.3 253.1 L811.6 251.2 L811.9 251.0 L812.3 249.4 L812.6 249.7 L812.9 249.6 L813.3 250.7 L813.6 249.1 L813.9 251.9 L814.2 251.3 L814.6 251.4 L814.9 251.9 L815.2 254.0 L815.6 255.9 L815.9 254.8 L816.2 257.1 L816.6 258.0 L816.9 258.3 L817.2 257.6 L817.5 255.9 L817.9 258.2 L818.2 258.0 L818.5 258.9 L818.9 257.2 L819.2 258.8 L819.5 260.1 L819.9 259.4 L820.2 260.9 L820.5 263.1 L820.8 262.4 L821.2 261.5 L821.5 264.9 L821.8 261.2 L822.2 261.9 L822.5 263.7 L822.8 263.4 L823.2 261.8 L823.5 264.5 L823.8 266.0 L824.1 265.0 L824.5 266.8 L824.8 266.0 L825.1 266.4 L825.5 263.4 L825.8 264.1 L826.1 265.8 L826.5 266.4 L826.8 265.9 L827.1 264.6 L827.4 264.7 L827.8 264.0 L828.1 265.9 L828.4 264.6 L828.8 265.4 L829.1 263.4 L829.4 263.1 L829.8 266.2 L830.1 264.8 L830.4 264.4 L830.7 261.3 L831.1 262.6 L831.4 264.9 L831.7 261.4 L832.1 259.5 L832.4 261.2 L832.7 261.2 L833.1 261.4 L833.4 260.2 L833.7 259.6 L834.0 259.5 L834.4 261.7 L834.7 261.7 L835.0 262.8 L835.4 261.2 L835.7 262.8 L836.0 262.3 L836.4 262.9 L836.7 264.1 L837.0 263.0 L837.3 262.1 L837.7 260.2 L838.0 261.4 L838.3 262.2 L838.7 260.6 L839.0 260.6 L839.3 258.4 L839.7 258.0 L840.0 259.5 L840.3 260.5 L840.6 258.7 L841.0 256.5 L841.3 257.0 L841.6 255.6 L842.0 256.3 L842.3 258.6 L842.6 257.1 L843.0 256.0"/>
<path stroke="#FFC000" stroke-width="3.1" d="M69.8 326.4 L842.6 326.4"/>
</g>
<g font-family="'Liberation Sans', 'Noto Sans CJK JP', sans-serif" font-size="16.4" fill="#666"><g transform="translate(77.20 360.50) rotate(-70)"><text x="-17.20" y="0" text-anchor="end">2004</text><text x="-16.62" y="0" font-size="17.5">年</text></g><g transform="translate(128.77 360.50) rotate(-70)"><text x="-17.20" y="0" text-anchor="end">2005</text><text x="-16.62" y="0" font-size="17.5">年</text></g><g transform="translate(180.35 360.50) rotate(-70)"><text x="-17.20" y="0" text-anchor="end">2006</text><text x="-16.62" y="0" font-size="17.5">年</text></g><g transform="translate(231.92 360.50) rotate(-70)"><text x="-17.20" y="0" text-anchor="end">2007</text><text x="-16.62" y="0" font-size="17.5">年</text></g><g transform="translate(283.49 360.50) rotate(-70)"><text x="-17.20" y="0" text-anchor="end">2008</text><text x="-16.62" y="0" font-size="17.5">年</text></g><g transform="translate(335.07 360.50) rotate(-70)"><text x="-17.20" y="0" text-anchor="end">2009</text><text x="-16.62" y="0" font-size="17.5">年</text></g><g transform="translate(386.64 360.50) rotate(-70)"><text x="-17.20" y="0" text-anchor="end">2010</text><text x="-16.62" y="0" font-size="17.5">年</text></g><g transform="translate(438.21 360.50) rotate(-70)"><text x="-17.20" y="0" text-anchor="end">2011</text><text x="-16.62" y="0" font-size="17.5">年</text></g><g transform="translate(489.79 360.50) rotate(-70)"><text x="-17.20" y="0" text-anchor="end">2012</text><text x="-16.62" y="0" font-size="17.5">年</text></g><g transform="translate(541.36 360.50) rotate(-70)"><text x="-17.20" y="0" text-anchor="end">2013</text><text x="-16.62" y="0" font-size="17.5">年</text></g><g transform="translate(592.93 360.50) rotate(-70)"><text x="-17.20" y="0" text-anchor="end">2014</text><text x="-16.62" y="0" font-size="17.5">年</text></g><g transform="translate(644.51 360.50) rotate(-70)"><text x="-17.20" y="0" text-anchor="end">2015</text><text x="-16.62" y="0" font-size="17.5">年</text></g><g transform="translate(696.08 360.50) rotate(-70)"><text x="-17.20" y="0" text-anchor="end">2016</text><text x="-16.62" y="0" font-size="17.5">年</text></g><g transform="translate(747.65 360.50) rotate(-70)"><text x="-17.20" y="0" text-anchor="end">2017</text><text x="-16.62" y="0" font-size="17.5">年</text></g><g transform="translate(799.23 360.50) rotate(-70)"><text x="-17.20" y="0" text-anchor="end">2018</text><text x="-16.62" y="0" font-size="17.5">年</text></g><g transform="translate(850.80 360.50) rotate(-70)"><text x="-17.20" y="0" text-anchor="end">2018</text><text x="-16.62" y="0" font-size="17.5">年</text></g></g>
<g fill="none" stroke-width="3" stroke-linecap="round"><path stroke="#FF0000" d="M884.2 215.7 H921.2"/><path stroke="#0070C0" d="M884.2 251.4 H921.2"/><path stroke="#FFC000" d="M884.2 287.0 H921.2"/></g>
<g fill="#333" font-family="'Liberation Sans', 'Noto Sans CJK JP', sans-serif" font-size="19.2"><text x="925.81" y="221.70">ドル建て</text></g>
<g fill="#333" font-family="'Liberation Sans', 'Noto Sans CJK JP', sans-serif" font-size="19.2"><text x="925.64" y="257.00">円建て</text></g>
<g fill="#333" font-family="'Liberation Sans', 'Noto Sans CJK JP', sans-serif" font-size="19.2"><text x="925.88" y="292.60">一括元本</text></g>
<g fill="#000" font-family="'Liberation Sans', 'Noto Sans CJK JP', sans-serif" font-weight="bold" font-size="34.4"><text x="379.63" y="56.90">年</text><text x="415.03" y="56.90">～</text><text x="521.93" y="56.90">年</text><text x="574.99 610.81 647.54 682.50" y="56.90">一括投資</text></g>
<g font-family="'Liberation Sans', sans-serif" font-weight="bold" font-size="31" fill="#000"><text x="307.6" y="56.2" textLength="72" lengthAdjust="spacingAndGlyphs">2004</text><text x="449.4" y="56.2" textLength="72" lengthAdjust="spacingAndGlyphs">2018</text></g>
<rect x="556.3" y="59.5" width="18.3" height="2.8" fill="#000"/>
</svg>
</body>
</html>
